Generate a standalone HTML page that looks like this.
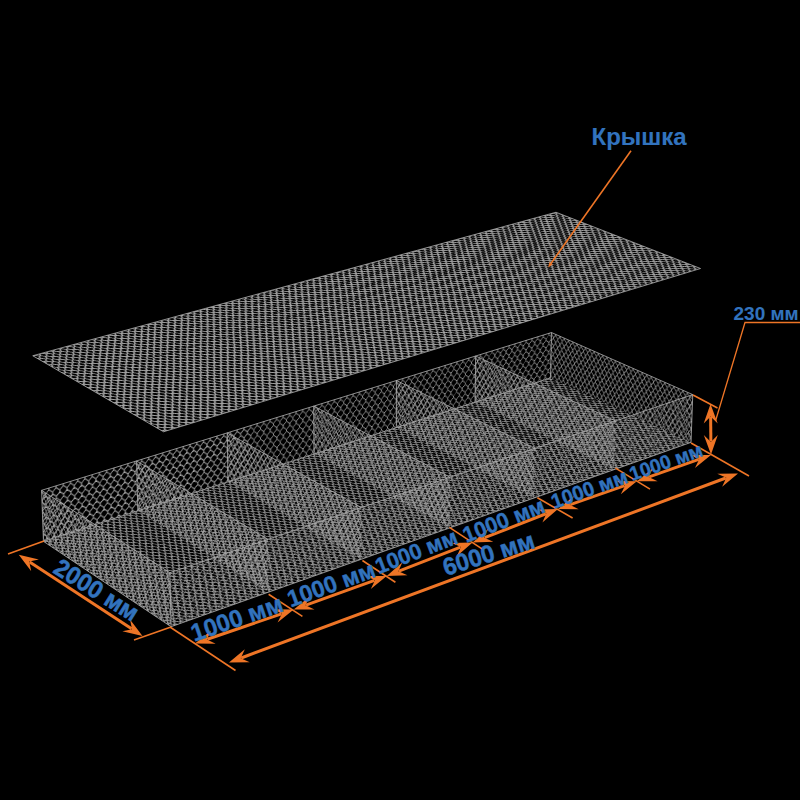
<!DOCTYPE html><html><head><meta charset="utf-8"><style>
html,body{margin:0;padding:0;background:#000;width:800px;height:800px;overflow:hidden}
svg{position:absolute;left:0;top:0}
</style></head><body>
<svg width="800" height="800" viewBox="0 0 800 800"><defs><clipPath id="c0"><path d="M32.4,355.74L107.18,335.24L74.37,380.27Z"/></clipPath><pattern id="ml0" width="6.8" height="7.9" patternUnits="userSpaceOnUse" patternTransform="matrix(1.098,-0.301,0.693,0.403,32.75,355.75) rotate(-6)"><path d="M0,0H0.85L3.4,3.95H4.25L6.8,0M0,7.9H0.85L3.4,3.95M4.25,3.95L6.8,7.9" fill="none" stroke="#a8a8a8" stroke-width="1.4" stroke-linejoin="round"/></pattern><clipPath id="c1"><path d="M106.83,335.07L149.67,358.66L74.03,380.1Z"/></clipPath><pattern id="ml1" width="6.8" height="7.9" patternUnits="userSpaceOnUse" patternTransform="matrix(1.111,-0.315,0.707,0.387,31.889,356.679) rotate(-6)"><path d="M0,0H0.85L3.4,3.95H4.25L6.8,0M0,7.9H0.85L3.4,3.95M4.25,3.95L6.8,7.9" fill="none" stroke="#a8a8a8" stroke-width="1.4" stroke-linejoin="round"/></pattern><clipPath id="c2"><path d="M73.98,379.91L149.62,358.47L117.92,405.57Z"/></clipPath><pattern id="ml2" width="6.8" height="7.9" patternUnits="userSpaceOnUse" patternTransform="matrix(1.111,-0.315,0.726,0.422,30.793,354.612) rotate(-6)"><path d="M0,0H0.85L3.4,3.95H4.25L6.8,0M0,7.9H0.85L3.4,3.95M4.25,3.95L6.8,7.9" fill="none" stroke="#a8a8a8" stroke-width="1.4" stroke-linejoin="round"/></pattern><clipPath id="c3"><path d="M149.26,358.31L194.07,382.98L117.57,405.41Z"/></clipPath><pattern id="ml3" width="6.8" height="7.9" patternUnits="userSpaceOnUse" patternTransform="matrix(1.124,-0.33,0.74,0.405,29.07,356.602) rotate(-6)"><path d="M0,0H0.85L3.4,3.95H4.25L6.8,0M0,7.9H0.85L3.4,3.95M4.25,3.95L6.8,7.9" fill="none" stroke="#a8a8a8" stroke-width="1.4" stroke-linejoin="round"/></pattern><clipPath id="c4"><path d="M117.52,405.21L194.01,382.77L163.57,432.09Z"/></clipPath><pattern id="ml4" width="6.8" height="7.9" patternUnits="userSpaceOnUse" patternTransform="matrix(1.124,-0.33,0.761,0.442,26.596,352.173) rotate(-6)"><path d="M0,0H0.85L3.4,3.95H4.25L6.8,0M0,7.9H0.85L3.4,3.95M4.25,3.95L6.8,7.9" fill="none" stroke="#a8a8a8" stroke-width="1.4" stroke-linejoin="round"/></pattern><clipPath id="c5"><path d="M193.64,382.63L240.56,408.43L163.21,431.95Z"/></clipPath><pattern id="ml5" width="6.8" height="7.9" patternUnits="userSpaceOnUse" patternTransform="matrix(1.137,-0.346,0.775,0.424,24.017,355.373) rotate(-6)"><path d="M0,0H0.85L3.4,3.95H4.25L6.8,0M0,7.9H0.85L3.4,3.95M4.25,3.95L6.8,7.9" fill="none" stroke="#a8a8a8" stroke-width="1.4" stroke-linejoin="round"/></pattern><clipPath id="c6"><path d="M106.53,335.41L178.54,315.66L149.39,359Z"/></clipPath><pattern id="ml6" width="6.8" height="7.9" patternUnits="userSpaceOnUse" patternTransform="matrix(1.057,-0.29,0.707,0.387,35.523,354.99) rotate(-6)"><path d="M0,0H0.85L3.4,3.95H4.25L6.8,0M0,7.9H0.85L3.4,3.95M4.25,3.95L6.8,7.9" fill="none" stroke="#a8a8a8" stroke-width="1.4" stroke-linejoin="round"/></pattern><clipPath id="c7"><path d="M178.17,315.51L221.8,338.22L149.03,358.84Z"/></clipPath><pattern id="ml7" width="6.8" height="7.9" patternUnits="userSpaceOnUse" patternTransform="matrix(1.069,-0.303,0.72,0.373,33.989,356.744) rotate(-6)"><path d="M0,0H0.85L3.4,3.95H4.25L6.8,0M0,7.9H0.85L3.4,3.95M4.25,3.95L6.8,7.9" fill="none" stroke="#a8a8a8" stroke-width="1.4" stroke-linejoin="round"/></pattern><clipPath id="c8"><path d="M148.97,358.65L221.74,338.02L193.8,383.31Z"/></clipPath><pattern id="ml8" width="6.8" height="7.9" patternUnits="userSpaceOnUse" patternTransform="matrix(1.069,-0.303,0.74,0.405,32.798,354.795) rotate(-6)"><path d="M0,0H0.85L3.4,3.95H4.25L6.8,0M0,7.9H0.85L3.4,3.95M4.25,3.95L6.8,7.9" fill="none" stroke="#a8a8a8" stroke-width="1.4" stroke-linejoin="round"/></pattern><clipPath id="c9"><path d="M221.36,337.87L266.96,361.59L193.43,383.16Z"/></clipPath><pattern id="ml9" width="6.8" height="7.9" patternUnits="userSpaceOnUse" patternTransform="matrix(1.08,-0.317,0.753,0.39,30.509,357.607) rotate(-6)"><path d="M0,0H0.85L3.4,3.95H4.25L6.8,0M0,7.9H0.85L3.4,3.95M4.25,3.95L6.8,7.9" fill="none" stroke="#a8a8a8" stroke-width="1.4" stroke-linejoin="round"/></pattern><clipPath id="c10"><path d="M193.37,382.96L266.9,361.39L240.31,408.77Z"/></clipPath><pattern id="ml10" width="6.8" height="7.9" patternUnits="userSpaceOnUse" patternTransform="matrix(1.08,-0.317,0.775,0.424,27.842,353.436) rotate(-6)"><path d="M0,0H0.85L3.4,3.95H4.25L6.8,0M0,7.9H0.85L3.4,3.95M4.25,3.95L6.8,7.9" fill="none" stroke="#a8a8a8" stroke-width="1.4" stroke-linejoin="round"/></pattern><clipPath id="c11"><path d="M266.51,361.25L314.21,386.05L239.93,408.63Z"/></clipPath><pattern id="ml11" width="6.8" height="7.9" patternUnits="userSpaceOnUse" patternTransform="matrix(1.091,-0.332,0.788,0.408,24.816,357.452) rotate(-6)"><path d="M0,0H0.85L3.4,3.95H4.25L6.8,0M0,7.9H0.85L3.4,3.95M4.25,3.95L6.8,7.9" fill="none" stroke="#a8a8a8" stroke-width="1.4" stroke-linejoin="round"/></pattern><clipPath id="c12"><path d="M177.89,315.84L247.27,296.81L221.54,338.55Z"/></clipPath><pattern id="ml12" width="6.8" height="7.9" patternUnits="userSpaceOnUse" patternTransform="matrix(1.018,-0.279,0.72,0.373,40.763,353.553) rotate(-6)"><path d="M0,0H0.85L3.4,3.95H4.25L6.8,0M0,7.9H0.85L3.4,3.95M4.25,3.95L6.8,7.9" fill="none" stroke="#a8a8a8" stroke-width="1.4" stroke-linejoin="round"/></pattern><clipPath id="c13"><path d="M246.88,296.66L291.22,318.54L221.15,338.4Z"/></clipPath><pattern id="ml13" width="6.8" height="7.9" patternUnits="userSpaceOnUse" patternTransform="matrix(1.028,-0.292,0.731,0.359,38.719,356.038) rotate(-6)"><path d="M0,0H0.85L3.4,3.95H4.25L6.8,0M0,7.9H0.85L3.4,3.95M4.25,3.95L6.8,7.9" fill="none" stroke="#a8a8a8" stroke-width="1.4" stroke-linejoin="round"/></pattern><clipPath id="c14"><path d="M221.1,338.2L291.16,318.34L266.71,361.92Z"/></clipPath><pattern id="ml14" width="6.8" height="7.9" patternUnits="userSpaceOnUse" patternTransform="matrix(1.028,-0.292,0.753,0.39,37.446,354.198) rotate(-6)"><path d="M0,0H0.85L3.4,3.95H4.25L6.8,0M0,7.9H0.85L3.4,3.95M4.25,3.95L6.8,7.9" fill="none" stroke="#a8a8a8" stroke-width="1.4" stroke-linejoin="round"/></pattern><clipPath id="c15"><path d="M290.76,318.2L337.05,341.03L266.32,361.78Z"/></clipPath><pattern id="ml15" width="6.8" height="7.9" patternUnits="userSpaceOnUse" patternTransform="matrix(1.038,-0.305,0.764,0.375,34.751,357.737) rotate(-6)"><path d="M0,0H0.85L3.4,3.95H4.25L6.8,0M0,7.9H0.85L3.4,3.95M4.25,3.95L6.8,7.9" fill="none" stroke="#a8a8a8" stroke-width="1.4" stroke-linejoin="round"/></pattern><clipPath id="c16"><path d="M266.26,361.57L336.99,340.82L313.98,386.37Z"/></clipPath><pattern id="ml16" width="6.8" height="7.9" patternUnits="userSpaceOnUse" patternTransform="matrix(1.038,-0.305,0.788,0.408,31.919,353.804) rotate(-6)"><path d="M0,0H0.85L3.4,3.95H4.25L6.8,0M0,7.9H0.85L3.4,3.95M4.25,3.95L6.8,7.9" fill="none" stroke="#a8a8a8" stroke-width="1.4" stroke-linejoin="round"/></pattern><clipPath id="c17"><path d="M336.58,340.69L384.97,364.54L313.57,386.24Z"/></clipPath><pattern id="ml17" width="6.8" height="7.9" patternUnits="userSpaceOnUse" patternTransform="matrix(1.048,-0.319,0.799,0.392,28.601,358.534) rotate(-6)"><path d="M0,0H0.85L3.4,3.95H4.25L6.8,0M0,7.9H0.85L3.4,3.95M4.25,3.95L6.8,7.9" fill="none" stroke="#a8a8a8" stroke-width="1.4" stroke-linejoin="round"/></pattern><clipPath id="c18"><path d="M246.63,296.99L313.53,278.63L290.98,318.86Z"/></clipPath><pattern id="ml18" width="6.8" height="7.9" patternUnits="userSpaceOnUse" patternTransform="matrix(0.982,-0.269,0.731,0.359,48.198,351.514) rotate(-6)"><path d="M0,0H0.85L3.4,3.95H4.25L6.8,0M0,7.9H0.85L3.4,3.95M4.25,3.95L6.8,7.9" fill="none" stroke="#a8a8a8" stroke-width="1.4" stroke-linejoin="round"/></pattern><clipPath id="c19"><path d="M313.12,278.5L358.08,299.58L290.58,318.72Z"/></clipPath><pattern id="ml19" width="6.8" height="7.9" patternUnits="userSpaceOnUse" patternTransform="matrix(0.991,-0.281,0.742,0.346,45.784,354.648) rotate(-6)"><path d="M0,0H0.85L3.4,3.95H4.25L6.8,0M0,7.9H0.85L3.4,3.95M4.25,3.95L6.8,7.9" fill="none" stroke="#a8a8a8" stroke-width="1.4" stroke-linejoin="round"/></pattern><clipPath id="c20"><path d="M290.52,318.52L358.02,299.38L336.83,341.35Z"/></clipPath><pattern id="ml20" width="6.8" height="7.9" patternUnits="userSpaceOnUse" patternTransform="matrix(0.991,-0.281,0.764,0.375,44.441,352.909) rotate(-6)"><path d="M0,0H0.85L3.4,3.95H4.25L6.8,0M0,7.9H0.85L3.4,3.95M4.25,3.95L6.8,7.9" fill="none" stroke="#a8a8a8" stroke-width="1.4" stroke-linejoin="round"/></pattern><clipPath id="c21"><path d="M357.6,299.25L404.51,321.24L336.41,341.22Z"/></clipPath><pattern id="ml21" width="6.8" height="7.9" patternUnits="userSpaceOnUse" patternTransform="matrix(0.999,-0.293,0.774,0.361,41.476,357.087) rotate(-6)"><path d="M0,0H0.85L3.4,3.95H4.25L6.8,0M0,7.9H0.85L3.4,3.95M4.25,3.95L6.8,7.9" fill="none" stroke="#a8a8a8" stroke-width="1.4" stroke-linejoin="round"/></pattern><clipPath id="c22"><path d="M336.35,341.01L404.44,321.02L384.75,364.85Z"/></clipPath><pattern id="ml22" width="6.8" height="7.9" patternUnits="userSpaceOnUse" patternTransform="matrix(0.999,-0.293,0.799,0.392,38.503,353.375) rotate(-6)"><path d="M0,0H0.85L3.4,3.95H4.25L6.8,0M0,7.9H0.85L3.4,3.95M4.25,3.95L6.8,7.9" fill="none" stroke="#a8a8a8" stroke-width="1.4" stroke-linejoin="round"/></pattern><clipPath id="c23"><path d="M404.02,320.91L453,343.85L384.33,364.74Z"/></clipPath><pattern id="ml23" width="6.8" height="7.9" patternUnits="userSpaceOnUse" patternTransform="matrix(1.008,-0.306,0.808,0.377,35.027,358.729) rotate(-6)"><path d="M0,0H0.85L3.4,3.95H4.25L6.8,0M0,7.9H0.85L3.4,3.95M4.25,3.95L6.8,7.9" fill="none" stroke="#a8a8a8" stroke-width="1.4" stroke-linejoin="round"/></pattern><clipPath id="c24"><path d="M312.89,278.82L377.44,261.1L357.87,299.9Z"/></clipPath><pattern id="ml24" width="6.8" height="7.9" patternUnits="userSpaceOnUse" patternTransform="matrix(0.947,-0.26,0.742,0.346,57.584,348.939) rotate(-6)"><path d="M0,0H0.85L3.4,3.95H4.25L6.8,0M0,7.9H0.85L3.4,3.95M4.25,3.95L6.8,7.9" fill="none" stroke="#a8a8a8" stroke-width="1.4" stroke-linejoin="round"/></pattern><clipPath id="c25"><path d="M377.01,260.98L422.53,281.31L357.44,299.77Z"/></clipPath><pattern id="ml25" width="6.8" height="7.9" patternUnits="userSpaceOnUse" patternTransform="matrix(0.955,-0.271,0.75,0.333,54.922,352.648) rotate(-6)"><path d="M0,0H0.85L3.4,3.95H4.25L6.8,0M0,7.9H0.85L3.4,3.95M4.25,3.95L6.8,7.9" fill="none" stroke="#a8a8a8" stroke-width="1.4" stroke-linejoin="round"/></pattern><clipPath id="c26"><path d="M357.38,299.57L422.46,281.1L404.31,321.55Z"/></clipPath><pattern id="ml26" width="6.8" height="7.9" patternUnits="userSpaceOnUse" patternTransform="matrix(0.955,-0.271,0.774,0.361,53.518,351.003) rotate(-6)"><path d="M0,0H0.85L3.4,3.95H4.25L6.8,0M0,7.9H0.85L3.4,3.95M4.25,3.95L6.8,7.9" fill="none" stroke="#a8a8a8" stroke-width="1.4" stroke-linejoin="round"/></pattern><clipPath id="c27"><path d="M422.03,280.99L469.48,302.18L403.87,321.43Z"/></clipPath><pattern id="ml27" width="6.8" height="7.9" patternUnits="userSpaceOnUse" patternTransform="matrix(0.962,-0.282,0.782,0.348,50.402,355.743) rotate(-6)"><path d="M0,0H0.85L3.4,3.95H4.25L6.8,0M0,7.9H0.85L3.4,3.95M4.25,3.95L6.8,7.9" fill="none" stroke="#a8a8a8" stroke-width="1.4" stroke-linejoin="round"/></pattern><clipPath id="c28"><path d="M403.81,321.22L469.41,301.96L452.81,344.16Z"/></clipPath><pattern id="ml28" width="6.8" height="7.9" patternUnits="userSpaceOnUse" patternTransform="matrix(0.962,-0.282,0.808,0.377,47.309,352.236) rotate(-6)"><path d="M0,0H0.85L3.4,3.95H4.25L6.8,0M0,7.9H0.85L3.4,3.95M4.25,3.95L6.8,7.9" fill="none" stroke="#a8a8a8" stroke-width="1.4" stroke-linejoin="round"/></pattern><clipPath id="c29"><path d="M468.97,301.86L518.47,323.95L452.37,344.06Z"/></clipPath><pattern id="ml29" width="6.8" height="7.9" patternUnits="userSpaceOnUse" patternTransform="matrix(0.97,-0.295,0.817,0.363,43.787,358.136) rotate(-6)"><path d="M0,0H0.85L3.4,3.95H4.25L6.8,0M0,7.9H0.85L3.4,3.95M4.25,3.95L6.8,7.9" fill="none" stroke="#a8a8a8" stroke-width="1.4" stroke-linejoin="round"/></pattern><clipPath id="c30"><path d="M376.8,261.29L439.13,244.18L422.33,281.62Z"/></clipPath><pattern id="ml30" width="6.8" height="7.9" patternUnits="userSpaceOnUse" patternTransform="matrix(0.914,-0.251,0.75,0.333,68.705,345.889) rotate(-6)"><path d="M0,0H0.85L3.4,3.95H4.25L6.8,0M0,7.9H0.85L3.4,3.95M4.25,3.95L6.8,7.9" fill="none" stroke="#a8a8a8" stroke-width="1.4" stroke-linejoin="round"/></pattern><clipPath id="c31"><path d="M438.68,244.07L484.69,263.69L421.89,281.51Z"/></clipPath><pattern id="ml31" width="6.8" height="7.9" patternUnits="userSpaceOnUse" patternTransform="matrix(0.921,-0.261,0.758,0.322,65.898,350.107) rotate(-6)"><path d="M0,0H0.85L3.4,3.95H4.25L6.8,0M0,7.9H0.85L3.4,3.95M4.25,3.95L6.8,7.9" fill="none" stroke="#a8a8a8" stroke-width="1.4" stroke-linejoin="round"/></pattern><clipPath id="c32"><path d="M421.83,281.3L484.62,263.48L469.29,302.48Z"/></clipPath><pattern id="ml32" width="6.8" height="7.9" patternUnits="userSpaceOnUse" patternTransform="matrix(0.921,-0.261,0.782,0.348,64.442,348.549) rotate(-6)"><path d="M0,0H0.85L3.4,3.95H4.25L6.8,0M0,7.9H0.85L3.4,3.95M4.25,3.95L6.8,7.9" fill="none" stroke="#a8a8a8" stroke-width="1.4" stroke-linejoin="round"/></pattern><clipPath id="c33"><path d="M484.17,263.38L532.09,283.81L468.84,302.38Z"/></clipPath><pattern id="ml33" width="6.8" height="7.9" patternUnits="userSpaceOnUse" patternTransform="matrix(0.928,-0.272,0.79,0.335,61.274,353.784) rotate(-6)"><path d="M0,0H0.85L3.4,3.95H4.25L6.8,0M0,7.9H0.85L3.4,3.95M4.25,3.95L6.8,7.9" fill="none" stroke="#a8a8a8" stroke-width="1.4" stroke-linejoin="round"/></pattern><clipPath id="c34"><path d="M468.78,302.16L532.01,283.59L518.3,324.25Z"/></clipPath><pattern id="ml34" width="6.8" height="7.9" patternUnits="userSpaceOnUse" patternTransform="matrix(0.928,-0.272,0.817,0.363,58.081,350.466) rotate(-6)"><path d="M0,0H0.85L3.4,3.95H4.25L6.8,0M0,7.9H0.85L3.4,3.95M4.25,3.95L6.8,7.9" fill="none" stroke="#a8a8a8" stroke-width="1.4" stroke-linejoin="round"/></pattern><clipPath id="c35"><path d="M531.56,283.5L581.52,304.78L517.85,324.16Z"/></clipPath><pattern id="ml35" width="6.8" height="7.9" patternUnits="userSpaceOnUse" patternTransform="matrix(0.934,-0.284,0.824,0.35,54.609,356.84) rotate(-6)"><path d="M0,0H0.85L3.4,3.95H4.25L6.8,0M0,7.9H0.85L3.4,3.95M4.25,3.95L6.8,7.9" fill="none" stroke="#a8a8a8" stroke-width="1.4" stroke-linejoin="round"/></pattern><clipPath id="c36"><path d="M438.49,244.37L498.71,227.84L484.51,263.99Z"/></clipPath><pattern id="ml36" width="6.8" height="7.9" patternUnits="userSpaceOnUse" patternTransform="matrix(0.883,-0.242,0.758,0.322,81.365,342.417) rotate(-6)"><path d="M0,0H0.85L3.4,3.95H4.25L6.8,0M0,7.9H0.85L3.4,3.95M4.25,3.95L6.8,7.9" fill="none" stroke="#a8a8a8" stroke-width="1.4" stroke-linejoin="round"/></pattern><clipPath id="c37"><path d="M498.25,227.74L544.67,246.68L484.05,263.89Z"/></clipPath><pattern id="ml37" width="6.8" height="7.9" patternUnits="userSpaceOnUse" patternTransform="matrix(0.889,-0.252,0.765,0.311,78.503,347.084) rotate(-6)"><path d="M0,0H0.85L3.4,3.95H4.25L6.8,0M0,7.9H0.85L3.4,3.95M4.25,3.95L6.8,7.9" fill="none" stroke="#a8a8a8" stroke-width="1.4" stroke-linejoin="round"/></pattern><clipPath id="c38"><path d="M483.99,263.68L544.6,246.47L531.92,284.1Z"/></clipPath><pattern id="ml38" width="6.8" height="7.9" patternUnits="userSpaceOnUse" patternTransform="matrix(0.889,-0.252,0.79,0.335,77.003,345.607) rotate(-6)"><path d="M0,0H0.85L3.4,3.95H4.25L6.8,0M0,7.9H0.85L3.4,3.95M4.25,3.95L6.8,7.9" fill="none" stroke="#a8a8a8" stroke-width="1.4" stroke-linejoin="round"/></pattern><clipPath id="c39"><path d="M544.14,246.38L592.47,266.09L531.46,284.01Z"/></clipPath><pattern id="ml39" width="6.8" height="7.9" patternUnits="userSpaceOnUse" patternTransform="matrix(0.895,-0.262,0.797,0.323,73.869,351.276) rotate(-6)"><path d="M0,0H0.85L3.4,3.95H4.25L6.8,0M0,7.9H0.85L3.4,3.95M4.25,3.95L6.8,7.9" fill="none" stroke="#a8a8a8" stroke-width="1.4" stroke-linejoin="round"/></pattern><clipPath id="c40"><path d="M531.39,283.79L592.39,265.87L581.36,305.07Z"/></clipPath><pattern id="ml40" width="6.8" height="7.9" patternUnits="userSpaceOnUse" patternTransform="matrix(0.895,-0.262,0.824,0.35,70.591,348.135) rotate(-6)"><path d="M0,0H0.85L3.4,3.95H4.25L6.8,0M0,7.9H0.85L3.4,3.95M4.25,3.95L6.8,7.9" fill="none" stroke="#a8a8a8" stroke-width="1.4" stroke-linejoin="round"/></pattern><clipPath id="c41"><path d="M591.92,265.79L642.27,286.31L580.89,305Z"/></clipPath><pattern id="ml41" width="6.8" height="7.9" patternUnits="userSpaceOnUse" patternTransform="matrix(0.9,-0.274,0.83,0.337,67.249,354.921) rotate(-6)"><path d="M0,0H0.85L3.4,3.95H4.25L6.8,0M0,7.9H0.85L3.4,3.95M4.25,3.95L6.8,7.9" fill="none" stroke="#a8a8a8" stroke-width="1.4" stroke-linejoin="round"/></pattern><clipPath id="c42"><path d="M498.07,228.03L556.28,212.04L544.51,246.97Z"/></clipPath><pattern id="ml42" width="6.8" height="7.9" patternUnits="userSpaceOnUse" patternTransform="matrix(0.853,-0.234,0.765,0.311,95.39,338.571) rotate(-6)"><path d="M0,0H0.85L3.4,3.95H4.25L6.8,0M0,7.9H0.85L3.4,3.95M4.25,3.95L6.8,7.9" fill="none" stroke="#a8a8a8" stroke-width="1.4" stroke-linejoin="round"/></pattern><clipPath id="c43"><path d="M555.81,211.96L602.61,230.26L544.04,246.89Z"/></clipPath><pattern id="ml43" width="6.8" height="7.9" patternUnits="userSpaceOnUse" patternTransform="matrix(0.858,-0.243,0.771,0.3,92.549,343.634) rotate(-6)"><path d="M0,0H0.85L3.4,3.95H4.25L6.8,0M0,7.9H0.85L3.4,3.95M4.25,3.95L6.8,7.9" fill="none" stroke="#a8a8a8" stroke-width="1.4" stroke-linejoin="round"/></pattern><clipPath id="c44"><path d="M543.97,246.67L602.53,230.04L592.31,266.38Z"/></clipPath><pattern id="ml44" width="6.8" height="7.9" patternUnits="userSpaceOnUse" patternTransform="matrix(0.858,-0.243,0.797,0.323,91.013,342.233) rotate(-6)"><path d="M0,0H0.85L3.4,3.95H4.25L6.8,0M0,7.9H0.85L3.4,3.95M4.25,3.95L6.8,7.9" fill="none" stroke="#a8a8a8" stroke-width="1.4" stroke-linejoin="round"/></pattern><clipPath id="c45"><path d="M602.06,229.97L650.73,249L591.84,266.3Z"/></clipPath><pattern id="ml45" width="6.8" height="7.9" patternUnits="userSpaceOnUse" patternTransform="matrix(0.863,-0.253,0.802,0.312,87.986,348.281) rotate(-6)"><path d="M0,0H0.85L3.4,3.95H4.25L6.8,0M0,7.9H0.85L3.4,3.95M4.25,3.95L6.8,7.9" fill="none" stroke="#a8a8a8" stroke-width="1.4" stroke-linejoin="round"/></pattern><clipPath id="c46"><path d="M591.77,266.08L650.65,248.77L642.12,286.59Z"/></clipPath><pattern id="ml46" width="6.8" height="7.9" patternUnits="userSpaceOnUse" patternTransform="matrix(0.863,-0.253,0.83,0.337,84.638,345.304) rotate(-6)"><path d="M0,0H0.85L3.4,3.95H4.25L6.8,0M0,7.9H0.85L3.4,3.95M4.25,3.95L6.8,7.9" fill="none" stroke="#a8a8a8" stroke-width="1.4" stroke-linejoin="round"/></pattern><clipPath id="c47"><path d="M650.18,248.71L700.85,268.51L641.65,286.53Z"/></clipPath><pattern id="ml47" width="6.8" height="7.9" patternUnits="userSpaceOnUse" patternTransform="matrix(0.868,-0.264,0.835,0.325,81.494,352.447) rotate(-6)"><path d="M0,0H0.85L3.4,3.95H4.25L6.8,0M0,7.9H0.85L3.4,3.95M4.25,3.95L6.8,7.9" fill="none" stroke="#a8a8a8" stroke-width="1.4" stroke-linejoin="round"/></pattern><clipPath id="c48"><path d="M43.09,541.35L114.94,518.21L84.19,568.93Z"/></clipPath><pattern id="mf48" width="5.9" height="7.9" patternUnits="userSpaceOnUse" patternTransform="matrix(1.055,-0.34,0.678,0.454,43.437,541.358) rotate(-6)"><path d="M0,0H0.75L2.95,3.95H3.7L5.9,0M0,7.9H0.75L2.95,3.95M3.7,3.95L5.9,7.9" fill="none" stroke="#a8a8a8" stroke-width="1.0" stroke-linejoin="round"/></pattern><clipPath id="c49"><path d="M114.6,518.07L156.49,544.66L83.86,568.78Z"/></clipPath><pattern id="mf49" width="5.9" height="7.9" patternUnits="userSpaceOnUse" patternTransform="matrix(1.067,-0.354,0.691,0.437,42.659,542.336) rotate(-6)"><path d="M0,0H0.75L2.95,3.95H3.7L5.9,0M0,7.9H0.75L2.95,3.95M3.7,3.95L5.9,7.9" fill="none" stroke="#a8a8a8" stroke-width="1.0" stroke-linejoin="round"/></pattern><clipPath id="c50"><path d="M83.8,568.57L156.42,544.45L126.71,597.35Z"/></clipPath><pattern id="mf50" width="5.9" height="7.9" patternUnits="userSpaceOnUse" patternTransform="matrix(1.067,-0.354,0.708,0.474,41.639,540.156) rotate(-6)"><path d="M0,0H0.75L2.95,3.95H3.7L5.9,0M0,7.9H0.75L2.95,3.95M3.7,3.95L5.9,7.9" fill="none" stroke="#a8a8a8" stroke-width="1.0" stroke-linejoin="round"/></pattern><clipPath id="c51"><path d="M156.08,544.31L199.78,572.04L126.38,597.21Z"/></clipPath><pattern id="mf51" width="5.9" height="7.9" patternUnits="userSpaceOnUse" patternTransform="matrix(1.078,-0.37,0.721,0.456,40.082,542.24) rotate(-6)"><path d="M0,0H0.75L2.95,3.95H3.7L5.9,0M0,7.9H0.75L2.95,3.95M3.7,3.95L5.9,7.9" fill="none" stroke="#a8a8a8" stroke-width="1.0" stroke-linejoin="round"/></pattern><clipPath id="c52"><path d="M126.31,596.99L199.7,571.82L171.15,627.05Z"/></clipPath><pattern id="mf52" width="5.9" height="7.9" patternUnits="userSpaceOnUse" patternTransform="matrix(1.078,-0.37,0.74,0.495,37.798,537.588) rotate(-6)"><path d="M0,0H0.75L2.95,3.95H3.7L5.9,0M0,7.9H0.75L2.95,3.95M3.7,3.95L5.9,7.9" fill="none" stroke="#a8a8a8" stroke-width="1.0" stroke-linejoin="round"/></pattern><clipPath id="c53"><path d="M199.36,571.69L244.98,600.64L170.81,626.93Z"/></clipPath><pattern id="mf53" width="5.9" height="7.9" patternUnits="userSpaceOnUse" patternTransform="matrix(1.09,-0.386,0.753,0.477,35.467,540.924) rotate(-6)"><path d="M0,0H0.75L2.95,3.95H3.7L5.9,0M0,7.9H0.75L2.95,3.95M3.7,3.95L5.9,7.9" fill="none" stroke="#a8a8a8" stroke-width="1.0" stroke-linejoin="round"/></pattern><clipPath id="c54"><path d="M114.3,518.4L183.68,496.05L156.21,545Z"/></clipPath><pattern id="mf54" width="5.9" height="7.9" patternUnits="userSpaceOnUse" patternTransform="matrix(1.018,-0.328,0.691,0.437,45.906,540.563) rotate(-6)"><path d="M0,0H0.75L2.95,3.95H3.7L5.9,0M0,7.9H0.75L2.95,3.95M3.7,3.95L5.9,7.9" fill="none" stroke="#a8a8a8" stroke-width="1.0" stroke-linejoin="round"/></pattern><clipPath id="c55"><path d="M183.33,495.92L225.94,521.58L155.86,544.86Z"/></clipPath><pattern id="mf55" width="5.9" height="7.9" patternUnits="userSpaceOnUse" patternTransform="matrix(1.029,-0.342,0.703,0.422,44.508,542.415) rotate(-6)"><path d="M0,0H0.75L2.95,3.95H3.7L5.9,0M0,7.9H0.75L2.95,3.95M3.7,3.95L5.9,7.9" fill="none" stroke="#a8a8a8" stroke-width="1.0" stroke-linejoin="round"/></pattern><clipPath id="c56"><path d="M155.79,544.64L225.87,521.36L199.5,572.38Z"/></clipPath><pattern id="mf56" width="5.9" height="7.9" patternUnits="userSpaceOnUse" patternTransform="matrix(1.029,-0.342,0.721,0.456,43.408,540.351) rotate(-6)"><path d="M0,0H0.75L2.95,3.95H3.7L5.9,0M0,7.9H0.75L2.95,3.95M3.7,3.95L5.9,7.9" fill="none" stroke="#a8a8a8" stroke-width="1.0" stroke-linejoin="round"/></pattern><clipPath id="c57"><path d="M225.51,521.24L269.92,547.98L199.15,572.25Z"/></clipPath><pattern id="mf57" width="5.9" height="7.9" patternUnits="userSpaceOnUse" patternTransform="matrix(1.039,-0.356,0.733,0.44,41.32,543.31) rotate(-6)"><path d="M0,0H0.75L2.95,3.95H3.7L5.9,0M0,7.9H0.75L2.95,3.95M3.7,3.95L5.9,7.9" fill="none" stroke="#a8a8a8" stroke-width="1.0" stroke-linejoin="round"/></pattern><clipPath id="c58"><path d="M199.08,572.02L269.84,547.75L244.72,600.97Z"/></clipPath><pattern id="mf58" width="5.9" height="7.9" patternUnits="userSpaceOnUse" patternTransform="matrix(1.039,-0.356,0.753,0.477,38.875,538.91) rotate(-6)"><path d="M0,0H0.75L2.95,3.95H3.7L5.9,0M0,7.9H0.75L2.95,3.95M3.7,3.95L5.9,7.9" fill="none" stroke="#a8a8a8" stroke-width="1.0" stroke-linejoin="round"/></pattern><clipPath id="c59"><path d="M269.48,547.64L315.82,575.53L244.36,600.85Z"/></clipPath><pattern id="mf59" width="5.9" height="7.9" patternUnits="userSpaceOnUse" patternTransform="matrix(1.049,-0.372,0.765,0.459,36.11,543.116) rotate(-6)"><path d="M0,0H0.75L2.95,3.95H3.7L5.9,0M0,7.9H0.75L2.95,3.95M3.7,3.95L5.9,7.9" fill="none" stroke="#a8a8a8" stroke-width="1.0" stroke-linejoin="round"/></pattern><clipPath id="c60"><path d="M183.05,496.25L250.09,474.65L225.67,521.92Z"/></clipPath><pattern id="mf60" width="5.9" height="7.9" patternUnits="userSpaceOnUse" patternTransform="matrix(0.984,-0.317,0.703,0.422,50.592,539.053) rotate(-6)"><path d="M0,0H0.75L2.95,3.95H3.7L5.9,0M0,7.9H0.75L2.95,3.95M3.7,3.95L5.9,7.9" fill="none" stroke="#a8a8a8" stroke-width="1.0" stroke-linejoin="round"/></pattern><clipPath id="c61"><path d="M249.72,474.53L292.97,499.31L225.31,521.79Z"/></clipPath><pattern id="mf61" width="5.9" height="7.9" patternUnits="userSpaceOnUse" patternTransform="matrix(0.993,-0.33,0.714,0.407,48.712,541.689) rotate(-6)"><path d="M0,0H0.75L2.95,3.95H3.7L5.9,0M0,7.9H0.75L2.95,3.95M3.7,3.95L5.9,7.9" fill="none" stroke="#a8a8a8" stroke-width="1.0" stroke-linejoin="round"/></pattern><clipPath id="c62"><path d="M225.24,521.56L292.89,499.09L269.67,548.31Z"/></clipPath><pattern id="mf62" width="5.9" height="7.9" patternUnits="userSpaceOnUse" patternTransform="matrix(0.993,-0.33,0.733,0.44,47.542,539.732) rotate(-6)"><path d="M0,0H0.75L2.95,3.95H3.7L5.9,0M0,7.9H0.75L2.95,3.95M3.7,3.95L5.9,7.9" fill="none" stroke="#a8a8a8" stroke-width="1.0" stroke-linejoin="round"/></pattern><clipPath id="c63"><path d="M292.52,498.97L337.57,524.77L269.3,548.19Z"/></clipPath><pattern id="mf63" width="5.9" height="7.9" patternUnits="userSpaceOnUse" patternTransform="matrix(1.002,-0.344,0.743,0.424,45.058,543.47) rotate(-6)"><path d="M0,0H0.75L2.95,3.95H3.7L5.9,0M0,7.9H0.75L2.95,3.95M3.7,3.95L5.9,7.9" fill="none" stroke="#a8a8a8" stroke-width="1.0" stroke-linejoin="round"/></pattern><clipPath id="c64"><path d="M269.22,547.96L337.49,524.54L315.57,575.85Z"/></clipPath><pattern id="mf64" width="5.9" height="7.9" patternUnits="userSpaceOnUse" patternTransform="matrix(1.002,-0.344,0.765,0.459,42.473,539.304) rotate(-6)"><path d="M0,0H0.75L2.95,3.95H3.7L5.9,0M0,7.9H0.75L2.95,3.95M3.7,3.95L5.9,7.9" fill="none" stroke="#a8a8a8" stroke-width="1.0" stroke-linejoin="round"/></pattern><clipPath id="c65"><path d="M337.12,524.43L384.08,551.32L315.2,575.74Z"/></clipPath><pattern id="mf65" width="5.9" height="7.9" patternUnits="userSpaceOnUse" patternTransform="matrix(1.011,-0.359,0.775,0.442,39.409,544.28) rotate(-6)"><path d="M0,0H0.75L2.95,3.95H3.7L5.9,0M0,7.9H0.75L2.95,3.95M3.7,3.95L5.9,7.9" fill="none" stroke="#a8a8a8" stroke-width="1.0" stroke-linejoin="round"/></pattern><clipPath id="c66"><path d="M249.46,474.85L314.26,453.97L292.72,499.64Z"/></clipPath><pattern id="mf66" width="5.9" height="7.9" patternUnits="userSpaceOnUse" patternTransform="matrix(0.951,-0.306,0.714,0.407,57.267,536.902) rotate(-6)"><path d="M0,0H0.75L2.95,3.95H3.7L5.9,0M0,7.9H0.75L2.95,3.95M3.7,3.95L5.9,7.9" fill="none" stroke="#a8a8a8" stroke-width="1.0" stroke-linejoin="round"/></pattern><clipPath id="c67"><path d="M313.88,453.85L357.71,477.8L292.34,499.52Z"/></clipPath><pattern id="mf67" width="5.9" height="7.9" patternUnits="userSpaceOnUse" patternTransform="matrix(0.959,-0.319,0.723,0.393,55.025,540.239) rotate(-6)"><path d="M0,0H0.75L2.95,3.95H3.7L5.9,0M0,7.9H0.75L2.95,3.95M3.7,3.95L5.9,7.9" fill="none" stroke="#a8a8a8" stroke-width="1.0" stroke-linejoin="round"/></pattern><clipPath id="c68"><path d="M292.27,499.29L357.63,477.57L337.34,525.1Z"/></clipPath><pattern id="mf68" width="5.9" height="7.9" patternUnits="userSpaceOnUse" patternTransform="matrix(0.959,-0.319,0.743,0.424,53.795,538.382) rotate(-6)"><path d="M0,0H0.75L2.95,3.95H3.7L5.9,0M0,7.9H0.75L2.95,3.95M3.7,3.95L5.9,7.9" fill="none" stroke="#a8a8a8" stroke-width="1.0" stroke-linejoin="round"/></pattern><clipPath id="c69"><path d="M357.24,477.46L402.87,502.37L336.95,524.98Z"/></clipPath><pattern id="mf69" width="5.9" height="7.9" patternUnits="userSpaceOnUse" patternTransform="matrix(0.967,-0.332,0.753,0.41,51.033,542.813) rotate(-6)"><path d="M0,0H0.75L2.95,3.95H3.7L5.9,0M0,7.9H0.75L2.95,3.95M3.7,3.95L5.9,7.9" fill="none" stroke="#a8a8a8" stroke-width="1.0" stroke-linejoin="round"/></pattern><clipPath id="c70"><path d="M336.87,524.75L402.78,502.14L383.85,551.64Z"/></clipPath><pattern id="mf70" width="5.9" height="7.9" patternUnits="userSpaceOnUse" patternTransform="matrix(0.967,-0.332,0.775,0.442,48.327,538.866) rotate(-6)"><path d="M0,0H0.75L2.95,3.95H3.7L5.9,0M0,7.9H0.75L2.95,3.95M3.7,3.95L5.9,7.9" fill="none" stroke="#a8a8a8" stroke-width="1.0" stroke-linejoin="round"/></pattern><clipPath id="c71"><path d="M402.39,502.04L449.92,527.98L383.47,551.54Z"/></clipPath><pattern id="mf71" width="5.9" height="7.9" patternUnits="userSpaceOnUse" patternTransform="matrix(0.975,-0.346,0.784,0.427,45.078,544.522) rotate(-6)"><path d="M0,0H0.75L2.95,3.95H3.7L5.9,0M0,7.9H0.75L2.95,3.95M3.7,3.95L5.9,7.9" fill="none" stroke="#a8a8a8" stroke-width="1.0" stroke-linejoin="round"/></pattern><clipPath id="c72"><path d="M313.64,454.17L376.33,433.97L357.48,478.12Z"/></clipPath><pattern id="mf72" width="5.9" height="7.9" patternUnits="userSpaceOnUse" patternTransform="matrix(0.919,-0.296,0.723,0.393,65.727,534.177) rotate(-6)"><path d="M0,0H0.75L2.95,3.95H3.7L5.9,0M0,7.9H0.75L2.95,3.95M3.7,3.95L5.9,7.9" fill="none" stroke="#a8a8a8" stroke-width="1.0" stroke-linejoin="round"/></pattern><clipPath id="c73"><path d="M375.93,433.86L420.28,457.01L357.09,478.01Z"/></clipPath><pattern id="mf73" width="5.9" height="7.9" patternUnits="userSpaceOnUse" patternTransform="matrix(0.927,-0.308,0.731,0.38,63.228,538.139) rotate(-6)"><path d="M0,0H0.75L2.95,3.95H3.7L5.9,0M0,7.9H0.75L2.95,3.95M3.7,3.95L5.9,7.9" fill="none" stroke="#a8a8a8" stroke-width="1.0" stroke-linejoin="round"/></pattern><clipPath id="c74"><path d="M357.01,477.78L420.19,456.78L402.65,502.69Z"/></clipPath><pattern id="mf74" width="5.9" height="7.9" patternUnits="userSpaceOnUse" patternTransform="matrix(0.927,-0.308,0.753,0.41,61.945,536.377) rotate(-6)"><path d="M0,0H0.75L2.95,3.95H3.7L5.9,0M0,7.9H0.75L2.95,3.95M3.7,3.95L5.9,7.9" fill="none" stroke="#a8a8a8" stroke-width="1.0" stroke-linejoin="round"/></pattern><clipPath id="c75"><path d="M419.79,456.67L465.92,480.74L402.25,502.59Z"/></clipPath><pattern id="mf75" width="5.9" height="7.9" patternUnits="userSpaceOnUse" patternTransform="matrix(0.934,-0.32,0.761,0.396,59.009,541.423) rotate(-6)"><path d="M0,0H0.75L2.95,3.95H3.7L5.9,0M0,7.9H0.75L2.95,3.95M3.7,3.95L5.9,7.9" fill="none" stroke="#a8a8a8" stroke-width="1.0" stroke-linejoin="round"/></pattern><clipPath id="c76"><path d="M402.17,502.35L465.83,480.5L449.7,528.29Z"/></clipPath><pattern id="mf76" width="5.9" height="7.9" patternUnits="userSpaceOnUse" patternTransform="matrix(0.934,-0.32,0.784,0.427,56.199,537.679) rotate(-6)"><path d="M0,0H0.75L2.95,3.95H3.7L5.9,0M0,7.9H0.75L2.95,3.95M3.7,3.95L5.9,7.9" fill="none" stroke="#a8a8a8" stroke-width="1.0" stroke-linejoin="round"/></pattern><clipPath id="c77"><path d="M465.43,480.41L513.45,505.45L449.3,528.2Z"/></clipPath><pattern id="mf77" width="5.9" height="7.9" patternUnits="userSpaceOnUse" patternTransform="matrix(0.941,-0.334,0.792,0.412,52.864,543.936) rotate(-6)"><path d="M0,0H0.75L2.95,3.95H3.7L5.9,0M0,7.9H0.75L2.95,3.95M3.7,3.95L5.9,7.9" fill="none" stroke="#a8a8a8" stroke-width="1.0" stroke-linejoin="round"/></pattern><clipPath id="c78"><path d="M375.7,434.17L436.38,414.62L420.06,457.32Z"/></clipPath><pattern id="mf78" width="5.9" height="7.9" patternUnits="userSpaceOnUse" patternTransform="matrix(0.89,-0.287,0.731,0.38,75.787,530.935) rotate(-6)"><path d="M0,0H0.75L2.95,3.95H3.7L5.9,0M0,7.9H0.75L2.95,3.95M3.7,3.95L5.9,7.9" fill="none" stroke="#a8a8a8" stroke-width="1.0" stroke-linejoin="round"/></pattern><clipPath id="c79"><path d="M435.96,414.52L480.77,436.9L419.65,457.22Z"/></clipPath><pattern id="mf79" width="5.9" height="7.9" patternUnits="userSpaceOnUse" patternTransform="matrix(0.896,-0.298,0.739,0.368,73.123,535.457) rotate(-6)"><path d="M0,0H0.75L2.95,3.95H3.7L5.9,0M0,7.9H0.75L2.95,3.95M3.7,3.95L5.9,7.9" fill="none" stroke="#a8a8a8" stroke-width="1.0" stroke-linejoin="round"/></pattern><clipPath id="c80"><path d="M419.58,456.99L480.69,436.67L465.72,481.05Z"/></clipPath><pattern id="mf80" width="5.9" height="7.9" patternUnits="userSpaceOnUse" patternTransform="matrix(0.896,-0.298,0.761,0.396,71.795,533.782) rotate(-6)"><path d="M0,0H0.75L2.95,3.95H3.7L5.9,0M0,7.9H0.75L2.95,3.95M3.7,3.95L5.9,7.9" fill="none" stroke="#a8a8a8" stroke-width="1.0" stroke-linejoin="round"/></pattern><clipPath id="c81"><path d="M480.27,436.58L526.85,459.84L465.3,480.96Z"/></clipPath><pattern id="mf81" width="5.9" height="7.9" patternUnits="userSpaceOnUse" patternTransform="matrix(0.903,-0.31,0.768,0.382,68.772,539.376) rotate(-6)"><path d="M0,0H0.75L2.95,3.95H3.7L5.9,0M0,7.9H0.75L2.95,3.95M3.7,3.95L5.9,7.9" fill="none" stroke="#a8a8a8" stroke-width="1.0" stroke-linejoin="round"/></pattern><clipPath id="c82"><path d="M465.22,480.72L526.76,459.6L513.25,505.76Z"/></clipPath><pattern id="mf82" width="5.9" height="7.9" patternUnits="userSpaceOnUse" patternTransform="matrix(0.903,-0.31,0.792,0.412,65.873,535.821) rotate(-6)"><path d="M0,0H0.75L2.95,3.95H3.7L5.9,0M0,7.9H0.75L2.95,3.95M3.7,3.95L5.9,7.9" fill="none" stroke="#a8a8a8" stroke-width="1.0" stroke-linejoin="round"/></pattern><clipPath id="c83"><path d="M526.34,459.52L574.79,483.7L512.84,505.68Z"/></clipPath><pattern id="mf83" width="5.9" height="7.9" patternUnits="userSpaceOnUse" patternTransform="matrix(0.909,-0.322,0.799,0.398,62.537,542.608) rotate(-6)"><path d="M0,0H0.75L2.95,3.95H3.7L5.9,0M0,7.9H0.75L2.95,3.95M3.7,3.95L5.9,7.9" fill="none" stroke="#a8a8a8" stroke-width="1.0" stroke-linejoin="round"/></pattern><clipPath id="c84"><path d="M435.75,414.82L494.51,395.88L480.57,437.21Z"/></clipPath><pattern id="mf84" width="5.9" height="7.9" patternUnits="userSpaceOnUse" patternTransform="matrix(0.861,-0.278,0.739,0.368,87.282,527.231) rotate(-6)"><path d="M0,0H0.75L2.95,3.95H3.7L5.9,0M0,7.9H0.75L2.95,3.95M3.7,3.95L5.9,7.9" fill="none" stroke="#a8a8a8" stroke-width="1.0" stroke-linejoin="round"/></pattern><clipPath id="c85"><path d="M494.09,395.79L539.3,417.45L480.15,437.12Z"/></clipPath><pattern id="mf85" width="5.9" height="7.9" patternUnits="userSpaceOnUse" patternTransform="matrix(0.867,-0.288,0.745,0.356,84.532,532.253) rotate(-6)"><path d="M0,0H0.75L2.95,3.95H3.7L5.9,0M0,7.9H0.75L2.95,3.95M3.7,3.95L5.9,7.9" fill="none" stroke="#a8a8a8" stroke-width="1.0" stroke-linejoin="round"/></pattern><clipPath id="c86"><path d="M480.07,436.88L539.22,417.22L526.66,460.14Z"/></clipPath><pattern id="mf86" width="5.9" height="7.9" patternUnits="userSpaceOnUse" patternTransform="matrix(0.867,-0.288,0.768,0.382,83.165,530.659) rotate(-6)"><path d="M0,0H0.75L2.95,3.95H3.7L5.9,0M0,7.9H0.75L2.95,3.95M3.7,3.95L5.9,7.9" fill="none" stroke="#a8a8a8" stroke-width="1.0" stroke-linejoin="round"/></pattern><clipPath id="c87"><path d="M538.79,417.14L585.76,439.63L526.24,460.06Z"/></clipPath><pattern id="mf87" width="5.9" height="7.9" patternUnits="userSpaceOnUse" patternTransform="matrix(0.873,-0.299,0.774,0.37,80.132,536.738) rotate(-6)"><path d="M0,0H0.75L2.95,3.95H3.7L5.9,0M0,7.9H0.75L2.95,3.95M3.7,3.95L5.9,7.9" fill="none" stroke="#a8a8a8" stroke-width="1.0" stroke-linejoin="round"/></pattern><clipPath id="c88"><path d="M526.15,459.82L585.67,439.38L574.61,484Z"/></clipPath><pattern id="mf88" width="5.9" height="7.9" patternUnits="userSpaceOnUse" patternTransform="matrix(0.873,-0.299,0.799,0.398,77.157,533.36) rotate(-6)"><path d="M0,0H0.75L2.95,3.95H3.7L5.9,0M0,7.9H0.75L2.95,3.95M3.7,3.95L5.9,7.9" fill="none" stroke="#a8a8a8" stroke-width="1.0" stroke-linejoin="round"/></pattern><clipPath id="c89"><path d="M585.24,439.31L634.07,462.69L574.19,483.93Z"/></clipPath><pattern id="mf89" width="5.9" height="7.9" patternUnits="userSpaceOnUse" patternTransform="matrix(0.878,-0.311,0.805,0.384,73.893,540.613) rotate(-6)"><path d="M0,0H0.75L2.95,3.95H3.7L5.9,0M0,7.9H0.75L2.95,3.95M3.7,3.95L5.9,7.9" fill="none" stroke="#a8a8a8" stroke-width="1.0" stroke-linejoin="round"/></pattern><clipPath id="c90"><path d="M493.89,396.09L550.82,377.73L539.12,417.75Z"/></clipPath><pattern id="mf90" width="5.9" height="7.9" patternUnits="userSpaceOnUse" patternTransform="matrix(0.834,-0.269,0.745,0.356,100.062,523.113) rotate(-6)"><path d="M0,0H0.75L2.95,3.95H3.7L5.9,0M0,7.9H0.75L2.95,3.95M3.7,3.95L5.9,7.9" fill="none" stroke="#a8a8a8" stroke-width="1.0" stroke-linejoin="round"/></pattern><clipPath id="c91"><path d="M550.38,377.65L595.96,398.62L538.69,417.67Z"/></clipPath><pattern id="mf91" width="5.9" height="7.9" patternUnits="userSpaceOnUse" patternTransform="matrix(0.839,-0.279,0.751,0.344,97.294,528.58) rotate(-6)"><path d="M0,0H0.75L2.95,3.95H3.7L5.9,0M0,7.9H0.75L2.95,3.95M3.7,3.95L5.9,7.9" fill="none" stroke="#a8a8a8" stroke-width="1.0" stroke-linejoin="round"/></pattern><clipPath id="c92"><path d="M538.6,417.43L595.87,398.38L585.58,439.92Z"/></clipPath><pattern id="mf92" width="5.9" height="7.9" patternUnits="userSpaceOnUse" patternTransform="matrix(0.839,-0.279,0.774,0.37,95.894,527.063) rotate(-6)"><path d="M0,0H0.75L2.95,3.95H3.7L5.9,0M0,7.9H0.75L2.95,3.95M3.7,3.95L5.9,7.9" fill="none" stroke="#a8a8a8" stroke-width="1.0" stroke-linejoin="round"/></pattern><clipPath id="c93"><path d="M595.43,398.32L642.75,420.08L585.15,439.85Z"/></clipPath><pattern id="mf93" width="5.9" height="7.9" patternUnits="userSpaceOnUse" patternTransform="matrix(0.844,-0.29,0.78,0.358,92.917,533.572) rotate(-6)"><path d="M0,0H0.75L2.95,3.95H3.7L5.9,0M0,7.9H0.75L2.95,3.95M3.7,3.95L5.9,7.9" fill="none" stroke="#a8a8a8" stroke-width="1.0" stroke-linejoin="round"/></pattern><clipPath id="c94"><path d="M585.06,439.61L642.65,419.83L633.9,462.98Z"/></clipPath><pattern id="mf94" width="5.9" height="7.9" patternUnits="userSpaceOnUse" patternTransform="matrix(0.844,-0.29,0.805,0.384,89.878,530.359) rotate(-6)"><path d="M0,0H0.75L2.95,3.95H3.7L5.9,0M0,7.9H0.75L2.95,3.95M3.7,3.95L5.9,7.9" fill="none" stroke="#a8a8a8" stroke-width="1.0" stroke-linejoin="round"/></pattern><clipPath id="c95"><path d="M642.21,419.77L691.37,442.37L633.46,462.92Z"/></clipPath><pattern id="mf95" width="5.9" height="7.9" patternUnits="userSpaceOnUse" patternTransform="matrix(0.849,-0.301,0.81,0.372,86.748,538.021) rotate(-6)"><path d="M0,0H0.75L2.95,3.95H3.7L5.9,0M0,7.9H0.75L2.95,3.95M3.7,3.95L5.9,7.9" fill="none" stroke="#a8a8a8" stroke-width="1.0" stroke-linejoin="round"/></pattern><clipPath id="c96"><path d="M41.26,490.19L113.53,467.95L43.27,541.67Z"/></clipPath><pattern id="mw96" width="6.8" height="10.2" patternUnits="userSpaceOnUse" patternTransform="matrix(1.062,-0.328,0.037,1.021,41.585,490.317)"><path d="M0,0V1.8L3.4,5.1V6.9L0,10.2M6.8,0V1.8L3.4,5.1M3.4,6.9L6.8,10.2" fill="none" stroke="#a8a8a8" stroke-width="0.9" stroke-linejoin="round"/></pattern><clipPath id="c97"><path d="M113.41,467.84L114.98,518.53L43.15,541.56Z"/></clipPath><pattern id="mw97" width="6.8" height="10.2" patternUnits="userSpaceOnUse" patternTransform="matrix(1.055,-0.34,0.028,1.005,42.021,491.093)"><path d="M0,0V1.8L3.4,5.1V6.9L0,10.2M6.8,0V1.8L3.4,5.1M3.4,6.9L6.8,10.2" fill="none" stroke="#a8a8a8" stroke-width="0.9" stroke-linejoin="round"/></pattern><clipPath id="c98"><path d="M112.91,468.01L182.68,446.55L114.49,518.72Z"/></clipPath><pattern id="mw98" width="6.8" height="10.2" patternUnits="userSpaceOnUse" patternTransform="matrix(1.025,-0.317,0.028,1.005,44.083,489.544)"><path d="M0,0V1.8L3.4,5.1V6.9L0,10.2M6.8,0V1.8L3.4,5.1M3.4,6.9L6.8,10.2" fill="none" stroke="#a8a8a8" stroke-width="0.9" stroke-linejoin="round"/></pattern><clipPath id="c99"><path d="M182.56,446.44L183.73,496.39L114.37,518.61Z"/></clipPath><pattern id="mw99" width="6.8" height="10.2" patternUnits="userSpaceOnUse" patternTransform="matrix(1.018,-0.328,0.02,0.99,44.896,491.05)"><path d="M0,0V1.8L3.4,5.1V6.9L0,10.2M6.8,0V1.8L3.4,5.1M3.4,6.9L6.8,10.2" fill="none" stroke="#a8a8a8" stroke-width="0.9" stroke-linejoin="round"/></pattern><clipPath id="c100"><path d="M182.07,446.61L249.46,425.88L183.24,496.57Z"/></clipPath><pattern id="mw100" width="6.8" height="10.2" patternUnits="userSpaceOnUse" patternTransform="matrix(0.989,-0.306,0.02,0.99,48.822,488.078)"><path d="M0,0V1.8L3.4,5.1V6.9L0,10.2M6.8,0V1.8L3.4,5.1M3.4,6.9L6.8,10.2" fill="none" stroke="#a8a8a8" stroke-width="0.9" stroke-linejoin="round"/></pattern><clipPath id="c101"><path d="M249.34,425.78L250.13,475L183.11,496.46Z"/></clipPath><pattern id="mw101" width="6.8" height="10.2" patternUnits="userSpaceOnUse" patternTransform="matrix(0.984,-0.317,0.013,0.976,49.961,490.272)"><path d="M0,0V1.8L3.4,5.1V6.9L0,10.2M6.8,0V1.8L3.4,5.1M3.4,6.9L6.8,10.2" fill="none" stroke="#a8a8a8" stroke-width="0.9" stroke-linejoin="round"/></pattern><clipPath id="c102"><path d="M248.86,425.94L314,405.91L249.64,475.17Z"/></clipPath><pattern id="mw102" width="6.8" height="10.2" patternUnits="userSpaceOnUse" patternTransform="matrix(0.956,-0.296,0.013,0.976,55.571,485.989)"><path d="M0,0V1.8L3.4,5.1V6.9L0,10.2M6.8,0V1.8L3.4,5.1M3.4,6.9L6.8,10.2" fill="none" stroke="#a8a8a8" stroke-width="0.9" stroke-linejoin="round"/></pattern><clipPath id="c103"><path d="M313.88,405.81L314.31,454.32L249.52,475.06Z"/></clipPath><pattern id="mw103" width="6.8" height="10.2" patternUnits="userSpaceOnUse" patternTransform="matrix(0.951,-0.306,0.006,0.961,56.991,488.832)"><path d="M0,0V1.8L3.4,5.1V6.9L0,10.2M6.8,0V1.8L3.4,5.1M3.4,6.9L6.8,10.2" fill="none" stroke="#a8a8a8" stroke-width="0.9" stroke-linejoin="round"/></pattern><clipPath id="c104"><path d="M313.39,405.97L376.4,386.61L313.82,454.49Z"/></clipPath><pattern id="mw104" width="6.8" height="10.2" patternUnits="userSpaceOnUse" patternTransform="matrix(0.924,-0.286,0.006,0.961,64.123,483.343)"><path d="M0,0V1.8L3.4,5.1V6.9L0,10.2M6.8,0V1.8L3.4,5.1M3.4,6.9L6.8,10.2" fill="none" stroke="#a8a8a8" stroke-width="0.9" stroke-linejoin="round"/></pattern><clipPath id="c105"><path d="M376.28,386.5L376.37,434.33L313.7,454.39Z"/></clipPath><pattern id="mw105" width="6.8" height="10.2" patternUnits="userSpaceOnUse" patternTransform="matrix(0.919,-0.296,-0.001,0.948,65.783,486.797)"><path d="M0,0V1.8L3.4,5.1V6.9L0,10.2M6.8,0V1.8L3.4,5.1M3.4,6.9L6.8,10.2" fill="none" stroke="#a8a8a8" stroke-width="0.9" stroke-linejoin="round"/></pattern><clipPath id="c106"><path d="M375.79,386.66L436.76,367.93L375.89,434.49Z"/></clipPath><pattern id="mw106" width="6.8" height="10.2" patternUnits="userSpaceOnUse" patternTransform="matrix(0.894,-0.277,-0.001,0.948,74.29,480.197)"><path d="M0,0V1.8L3.4,5.1V6.9L0,10.2M6.8,0V1.8L3.4,5.1M3.4,6.9L6.8,10.2" fill="none" stroke="#a8a8a8" stroke-width="0.9" stroke-linejoin="round"/></pattern><clipPath id="c107"><path d="M436.64,367.82L436.42,414.98L375.77,434.39Z"/></clipPath><pattern id="mw107" width="6.8" height="10.2" patternUnits="userSpaceOnUse" patternTransform="matrix(0.89,-0.287,-0.007,0.934,76.155,484.226)"><path d="M0,0V1.8L3.4,5.1V6.9L0,10.2M6.8,0V1.8L3.4,5.1M3.4,6.9L6.8,10.2" fill="none" stroke="#a8a8a8" stroke-width="0.9" stroke-linejoin="round"/></pattern><clipPath id="c108"><path d="M436.16,367.97L495.19,349.85L435.94,415.15Z"/></clipPath><pattern id="mw108" width="6.8" height="10.2" patternUnits="userSpaceOnUse" patternTransform="matrix(0.866,-0.268,-0.007,0.934,85.903,476.604)"><path d="M0,0V1.8L3.4,5.1V6.9L0,10.2M6.8,0V1.8L3.4,5.1M3.4,6.9L6.8,10.2" fill="none" stroke="#a8a8a8" stroke-width="0.9" stroke-linejoin="round"/></pattern><clipPath id="c109"><path d="M495.07,349.74L494.56,396.25L435.82,415.04Z"/></clipPath><pattern id="mw109" width="6.8" height="10.2" patternUnits="userSpaceOnUse" patternTransform="matrix(0.861,-0.278,-0.013,0.921,87.941,481.176)"><path d="M0,0V1.8L3.4,5.1V6.9L0,10.2M6.8,0V1.8L3.4,5.1M3.4,6.9L6.8,10.2" fill="none" stroke="#a8a8a8" stroke-width="0.9" stroke-linejoin="round"/></pattern><clipPath id="c110"><path d="M494.59,349.89L551.77,332.34L494.08,396.41Z"/></clipPath><pattern id="mw110" width="6.8" height="10.2" patternUnits="userSpaceOnUse" patternTransform="matrix(0.838,-0.259,-0.013,0.921,98.811,472.61)"><path d="M0,0V1.8L3.4,5.1V6.9L0,10.2M6.8,0V1.8L3.4,5.1M3.4,6.9L6.8,10.2" fill="none" stroke="#a8a8a8" stroke-width="0.9" stroke-linejoin="round"/></pattern><clipPath id="c111"><path d="M551.65,332.23L550.87,378.11L493.96,396.31Z"/></clipPath><pattern id="mw111" width="6.8" height="10.2" patternUnits="userSpaceOnUse" patternTransform="matrix(0.834,-0.269,-0.019,0.908,100.993,477.694)"><path d="M0,0V1.8L3.4,5.1V6.9L0,10.2M6.8,0V1.8L3.4,5.1M3.4,6.9L6.8,10.2" fill="none" stroke="#a8a8a8" stroke-width="0.9" stroke-linejoin="round"/></pattern><clipPath id="c112"><path d="M551.25,332.28L620.44,362.72L550.29,378.19Z"/></clipPath><pattern id="me112" width="5.6" height="9.0" patternUnits="userSpaceOnUse" patternTransform="matrix(0.762,0.335,-0.019,0.908,551.484,332.54)"><path d="M0,0V1.0L2.8,4.5V5.5L0,9.0M5.6,0V1.0L2.8,4.5M2.8,5.5L5.6,9.0" fill="none" stroke="#a8a8a8" stroke-width="0.9" stroke-linejoin="round"/></pattern><clipPath id="c113"><path d="M620.36,362.45L619.01,409.51L550.21,377.92Z"/></clipPath><pattern id="me113" width="5.6" height="9.0" patternUnits="userSpaceOnUse" patternTransform="matrix(0.758,0.348,-0.026,0.931,551.864,331.399)"><path d="M0,0V1.0L2.8,4.5V5.5L0,9.0M5.6,0V1.0L2.8,4.5M2.8,5.5L5.6,9.0" fill="none" stroke="#a8a8a8" stroke-width="0.9" stroke-linejoin="round"/></pattern><clipPath id="c114"><path d="M619.86,362.42L693.1,394.64L618.51,409.46Z"/></clipPath><pattern id="me114" width="5.6" height="9.0" patternUnits="userSpaceOnUse" patternTransform="matrix(0.807,0.355,-0.026,0.931,547.432,330.76)"><path d="M0,0V1.0L2.8,4.5V5.5L0,9.0M5.6,0V1.0L2.8,4.5M2.8,5.5L5.6,9.0" fill="none" stroke="#a8a8a8" stroke-width="0.9" stroke-linejoin="round"/></pattern><clipPath id="c115"><path d="M693.02,394.38L691.25,442.63L618.43,409.2Z"/></clipPath><pattern id="me115" width="5.6" height="9.0" patternUnits="userSpaceOnUse" patternTransform="matrix(0.803,0.368,-0.035,0.955,548.279,328.362)"><path d="M0,0V1.0L2.8,4.5V5.5L0,9.0M5.6,0V1.0L2.8,4.5M2.8,5.5L5.6,9.0" fill="none" stroke="#a8a8a8" stroke-width="0.9" stroke-linejoin="round"/></pattern><clipPath id="c116"><path d="M475.4,355.75L543.88,387.55L474.81,402.51Z"/></clipPath><pattern id="me116" width="5.6" height="9.0" patternUnits="userSpaceOnUse" patternTransform="matrix(0.754,0.35,-0.011,0.925,475.633,356.01)"><path d="M0,0V1.0L2.8,4.5V5.5L0,9.0M5.6,0V1.0L2.8,4.5M2.8,5.5L5.6,9.0" fill="none" stroke="#a8a8a8" stroke-width="0.9" stroke-linejoin="round"/></pattern><clipPath id="c117"><path d="M543.8,387.27L542.82,435.23L474.72,402.24Z"/></clipPath><pattern id="me117" width="5.6" height="9.0" patternUnits="userSpaceOnUse" patternTransform="matrix(0.75,0.363,-0.019,0.949,476.007,354.826)"><path d="M0,0V1.0L2.8,4.5V5.5L0,9.0M5.6,0V1.0L2.8,4.5M2.8,5.5L5.6,9.0" fill="none" stroke="#a8a8a8" stroke-width="0.9" stroke-linejoin="round"/></pattern><clipPath id="c118"><path d="M543.3,387.24L615.88,420.95L542.33,435.19Z"/></clipPath><pattern id="me118" width="5.6" height="9.0" patternUnits="userSpaceOnUse" patternTransform="matrix(0.8,0.371,-0.019,0.949,471.532,354.108)"><path d="M0,0V1.0L2.8,4.5V5.5L0,9.0M5.6,0V1.0L2.8,4.5M2.8,5.5L5.6,9.0" fill="none" stroke="#a8a8a8" stroke-width="0.9" stroke-linejoin="round"/></pattern><clipPath id="c119"><path d="M615.81,420.68L614.41,469.87L542.25,434.91Z"/></clipPath><pattern id="me119" width="5.6" height="9.0" patternUnits="userSpaceOnUse" patternTransform="matrix(0.795,0.385,-0.027,0.974,472.368,351.618)"><path d="M0,0V1.0L2.8,4.5V5.5L0,9.0M5.6,0V1.0L2.8,4.5M2.8,5.5L5.6,9.0" fill="none" stroke="#a8a8a8" stroke-width="0.9" stroke-linejoin="round"/></pattern><clipPath id="c120"><path d="M396.23,380.24L463.86,413.5L396.03,427.9Z"/></clipPath><pattern id="me120" width="5.6" height="9.0" patternUnits="userSpaceOnUse" patternTransform="matrix(0.745,0.366,-0.003,0.943,396.451,380.512)"><path d="M0,0V1.0L2.8,4.5V5.5L0,9.0M5.6,0V1.0L2.8,4.5M2.8,5.5L5.6,9.0" fill="none" stroke="#a8a8a8" stroke-width="0.9" stroke-linejoin="round"/></pattern><clipPath id="c121"><path d="M463.77,413.22L463.2,462.11L395.94,427.61Z"/></clipPath><pattern id="me121" width="5.6" height="9.0" patternUnits="userSpaceOnUse" patternTransform="matrix(0.741,0.38,-0.011,0.968,396.816,379.283)"><path d="M0,0V1.0L2.8,4.5V5.5L0,9.0M5.6,0V1.0L2.8,4.5M2.8,5.5L5.6,9.0" fill="none" stroke="#a8a8a8" stroke-width="0.9" stroke-linejoin="round"/></pattern><clipPath id="c122"><path d="M463.29,413.19L535.07,448.49L462.72,462.07Z"/></clipPath><pattern id="me122" width="5.6" height="9.0" patternUnits="userSpaceOnUse" patternTransform="matrix(0.791,0.389,-0.011,0.968,392.305,378.475)"><path d="M0,0V1.0L2.8,4.5V5.5L0,9.0M5.6,0V1.0L2.8,4.5M2.8,5.5L5.6,9.0" fill="none" stroke="#a8a8a8" stroke-width="0.9" stroke-linejoin="round"/></pattern><clipPath id="c123"><path d="M534.99,448.21L534,498.38L462.64,461.78Z"/></clipPath><pattern id="me123" width="5.6" height="9.0" patternUnits="userSpaceOnUse" patternTransform="matrix(0.787,0.403,-0.019,0.994,393.127,375.889)"><path d="M0,0V1.0L2.8,4.5V5.5L0,9.0M5.6,0V1.0L2.8,4.5M2.8,5.5L5.6,9.0" fill="none" stroke="#a8a8a8" stroke-width="0.9" stroke-linejoin="round"/></pattern><clipPath id="c124"><path d="M313.49,405.84L380.13,440.66L313.73,454.42Z"/></clipPath><pattern id="me124" width="5.6" height="9.0" patternUnits="userSpaceOnUse" patternTransform="matrix(0.734,0.383,0.006,0.961,313.711,406.113)"><path d="M0,0V1.0L2.8,4.5V5.5L0,9.0M5.6,0V1.0L2.8,4.5M2.8,5.5L5.6,9.0" fill="none" stroke="#a8a8a8" stroke-width="0.9" stroke-linejoin="round"/></pattern><clipPath id="c125"><path d="M380.04,440.36L379.92,490.23L313.64,454.13Z"/></clipPath><pattern id="me125" width="5.6" height="9.0" patternUnits="userSpaceOnUse" patternTransform="matrix(0.73,0.397,-0.002,0.987,314.066,404.837)"><path d="M0,0V1.0L2.8,4.5V5.5L0,9.0M5.6,0V1.0L2.8,4.5M2.8,5.5L5.6,9.0" fill="none" stroke="#a8a8a8" stroke-width="0.9" stroke-linejoin="round"/></pattern><clipPath id="c126"><path d="M379.57,440.33L450.39,477.34L379.45,490.18Z"/></clipPath><pattern id="me126" width="5.6" height="9.0" patternUnits="userSpaceOnUse" patternTransform="matrix(0.781,0.407,-0.002,0.987,309.529,403.93)"><path d="M0,0V1.0L2.8,4.5V5.5L0,9.0M5.6,0V1.0L2.8,4.5M2.8,5.5L5.6,9.0" fill="none" stroke="#a8a8a8" stroke-width="0.9" stroke-linejoin="round"/></pattern><clipPath id="c127"><path d="M450.31,477.05L449.78,528.25L379.36,489.89Z"/></clipPath><pattern id="me127" width="5.6" height="9.0" patternUnits="userSpaceOnUse" patternTransform="matrix(0.776,0.422,-0.01,1.014,310.331,401.241)"><path d="M0,0V1.0L2.8,4.5V5.5L0,9.0M5.6,0V1.0L2.8,4.5M2.8,5.5L5.6,9.0" fill="none" stroke="#a8a8a8" stroke-width="0.9" stroke-linejoin="round"/></pattern><clipPath id="c128"><path d="M226.96,432.61L292.44,469.1L227.67,482.16Z"/></clipPath><pattern id="me128" width="5.6" height="9.0" patternUnits="userSpaceOnUse" patternTransform="matrix(0.721,0.402,0.015,0.98,227.17,432.892)"><path d="M0,0V1.0L2.8,4.5V5.5L0,9.0M5.6,0V1.0L2.8,4.5M2.8,5.5L5.6,9.0" fill="none" stroke="#a8a8a8" stroke-width="0.9" stroke-linejoin="round"/></pattern><clipPath id="c129"><path d="M292.34,468.79L292.72,519.67L227.58,481.85Z"/></clipPath><pattern id="me129" width="5.6" height="9.0" patternUnits="userSpaceOnUse" patternTransform="matrix(0.718,0.416,0.008,1.007,227.512,431.564)"><path d="M0,0V1.0L2.8,4.5V5.5L0,9.0M5.6,0V1.0L2.8,4.5M2.8,5.5L5.6,9.0" fill="none" stroke="#a8a8a8" stroke-width="0.9" stroke-linejoin="round"/></pattern><clipPath id="c130"><path d="M291.88,468.77L361.58,507.6L292.25,519.63Z"/></clipPath><pattern id="me130" width="5.6" height="9.0" patternUnits="userSpaceOnUse" patternTransform="matrix(0.768,0.428,0.008,1.007,222.96,430.548)"><path d="M0,0V1.0L2.8,4.5V5.5L0,9.0M5.6,0V1.0L2.8,4.5M2.8,5.5L5.6,9.0" fill="none" stroke="#a8a8a8" stroke-width="0.9" stroke-linejoin="round"/></pattern><clipPath id="c131"><path d="M361.49,507.3L361.47,559.56L292.17,519.32Z"/></clipPath><pattern id="me131" width="5.6" height="9.0" patternUnits="userSpaceOnUse" patternTransform="matrix(0.764,0.443,0,1.035,223.738,427.749)"><path d="M0,0V1.0L2.8,4.5V5.5L0,9.0M5.6,0V1.0L2.8,4.5M2.8,5.5L5.6,9.0" fill="none" stroke="#a8a8a8" stroke-width="0.9" stroke-linejoin="round"/></pattern><clipPath id="c132"><path d="M136.35,460.65L200.49,498.93L137.59,511.19Z"/></clipPath><pattern id="me132" width="5.6" height="9.0" patternUnits="userSpaceOnUse" patternTransform="matrix(0.707,0.421,0.026,1,136.56,460.929)"><path d="M0,0V1.0L2.8,4.5V5.5L0,9.0M5.6,0V1.0L2.8,4.5M2.8,5.5L5.6,9.0" fill="none" stroke="#a8a8a8" stroke-width="0.9" stroke-linejoin="round"/></pattern><clipPath id="c133"><path d="M200.39,498.61L201.3,550.54L137.5,510.87Z"/></clipPath><pattern id="me133" width="5.6" height="9.0" patternUnits="userSpaceOnUse" patternTransform="matrix(0.703,0.437,0.019,1.028,136.885,459.548)"><path d="M0,0V1.0L2.8,4.5V5.5L0,9.0M5.6,0V1.0L2.8,4.5M2.8,5.5L5.6,9.0" fill="none" stroke="#a8a8a8" stroke-width="0.9" stroke-linejoin="round"/></pattern><clipPath id="c134"><path d="M199.94,498.58L268.3,539.38L200.84,550.49Z"/></clipPath><pattern id="me134" width="5.6" height="9.0" patternUnits="userSpaceOnUse" patternTransform="matrix(0.753,0.449,0.019,1.028,132.333,458.408)"><path d="M0,0V1.0L2.8,4.5V5.5L0,9.0M5.6,0V1.0L2.8,4.5M2.8,5.5L5.6,9.0" fill="none" stroke="#a8a8a8" stroke-width="0.9" stroke-linejoin="round"/></pattern><clipPath id="c135"><path d="M268.21,539.06L268.74,592.44L200.76,550.17Z"/></clipPath><pattern id="me135" width="5.6" height="9.0" patternUnits="userSpaceOnUse" patternTransform="matrix(0.749,0.466,0.012,1.057,133.078,455.494)"><path d="M0,0V1.0L2.8,4.5V5.5L0,9.0M5.6,0V1.0L2.8,4.5M2.8,5.5L5.6,9.0" fill="none" stroke="#a8a8a8" stroke-width="0.9" stroke-linejoin="round"/></pattern><clipPath id="c136"><path d="M169.56,572.59L244.19,547.3L170.92,627.02Z"/></clipPath><pattern id="mv136" width="6.8" height="10.2" patternUnits="userSpaceOnUse" patternTransform="matrix(1.097,-0.374,0.024,1.08,169.89,572.714)"><path d="M0,0V1.8L3.4,5.1V6.9L0,10.2M6.8,0V1.8L3.4,5.1M3.4,6.9L6.8,10.2" fill="none" stroke="#a8a8a8" stroke-width="0.6" stroke-linejoin="round"/></pattern><clipPath id="c137"><path d="M244.07,547.19L244.96,600.75L170.8,626.92Z"/></clipPath><pattern id="mv137" width="6.8" height="10.2" patternUnits="userSpaceOnUse" patternTransform="matrix(1.09,-0.386,0.015,1.063,170.356,573.579)"><path d="M0,0V1.8L3.4,5.1V6.9L0,10.2M6.8,0V1.8L3.4,5.1M3.4,6.9L6.8,10.2" fill="none" stroke="#a8a8a8" stroke-width="0.6" stroke-linejoin="round"/></pattern><clipPath id="c138"><path d="M243.58,547.37L315.46,523.02L244.47,600.94Z"/></clipPath><pattern id="mv138" width="6.8" height="10.2" patternUnits="userSpaceOnUse" patternTransform="matrix(1.056,-0.36,0.015,1.063,172.64,571.778)"><path d="M0,0V1.8L3.4,5.1V6.9L0,10.2M6.8,0V1.8L3.4,5.1M3.4,6.9L6.8,10.2" fill="none" stroke="#a8a8a8" stroke-width="0.6" stroke-linejoin="round"/></pattern><clipPath id="c139"><path d="M315.34,522.92L315.8,575.64L244.35,600.84Z"/></clipPath><pattern id="mv139" width="6.8" height="10.2" patternUnits="userSpaceOnUse" patternTransform="matrix(1.049,-0.372,0.006,1.046,173.505,573.454)"><path d="M0,0V1.8L3.4,5.1V6.9L0,10.2M6.8,0V1.8L3.4,5.1M3.4,6.9L6.8,10.2" fill="none" stroke="#a8a8a8" stroke-width="0.6" stroke-linejoin="round"/></pattern><clipPath id="c140"><path d="M314.85,523.09L384.12,499.63L315.3,575.83Z"/></clipPath><pattern id="mv140" width="6.8" height="10.2" patternUnits="userSpaceOnUse" patternTransform="matrix(1.017,-0.347,0.006,1.046,177.838,570.007)"><path d="M0,0V1.8L3.4,5.1V6.9L0,10.2M6.8,0V1.8L3.4,5.1M3.4,6.9L6.8,10.2" fill="none" stroke="#a8a8a8" stroke-width="0.6" stroke-linejoin="round"/></pattern><clipPath id="c141"><path d="M384.01,499.52L384.06,551.44L315.19,575.72Z"/></clipPath><pattern id="mv141" width="6.8" height="10.2" patternUnits="userSpaceOnUse" patternTransform="matrix(1.011,-0.359,-0.002,1.03,179.044,572.446)"><path d="M0,0V1.8L3.4,5.1V6.9L0,10.2M6.8,0V1.8L3.4,5.1M3.4,6.9L6.8,10.2" fill="none" stroke="#a8a8a8" stroke-width="0.6" stroke-linejoin="round"/></pattern><clipPath id="c142"><path d="M383.52,499.69L450.33,477.07L383.57,551.62Z"/></clipPath><pattern id="mv142" width="6.8" height="10.2" patternUnits="userSpaceOnUse" patternTransform="matrix(0.981,-0.334,-0.002,1.03,185.217,567.493)"><path d="M0,0V1.8L3.4,5.1V6.9L0,10.2M6.8,0V1.8L3.4,5.1M3.4,6.9L6.8,10.2" fill="none" stroke="#a8a8a8" stroke-width="0.6" stroke-linejoin="round"/></pattern><clipPath id="c143"><path d="M450.21,476.97L449.89,528.11L383.45,551.52Z"/></clipPath><pattern id="mv143" width="6.8" height="10.2" patternUnits="userSpaceOnUse" patternTransform="matrix(0.975,-0.346,-0.01,1.014,186.712,570.648)"><path d="M0,0V1.8L3.4,5.1V6.9L0,10.2M6.8,0V1.8L3.4,5.1M3.4,6.9L6.8,10.2" fill="none" stroke="#a8a8a8" stroke-width="0.6" stroke-linejoin="round"/></pattern><clipPath id="c144"><path d="M449.73,477.13L514.21,455.31L449.4,528.28Z"/></clipPath><pattern id="mv144" width="6.8" height="10.2" patternUnits="userSpaceOnUse" patternTransform="matrix(0.946,-0.322,-0.01,1.014,194.536,564.319)"><path d="M0,0V1.8L3.4,5.1V6.9L0,10.2M6.8,0V1.8L3.4,5.1M3.4,6.9L6.8,10.2" fill="none" stroke="#a8a8a8" stroke-width="0.6" stroke-linejoin="round"/></pattern><clipPath id="c145"><path d="M514.09,455.21L513.42,505.59L449.29,528.18Z"/></clipPath><pattern id="mv145" width="6.8" height="10.2" patternUnits="userSpaceOnUse" patternTransform="matrix(0.941,-0.334,-0.017,0.999,196.274,568.147)"><path d="M0,0V1.8L3.4,5.1V6.9L0,10.2M6.8,0V1.8L3.4,5.1M3.4,6.9L6.8,10.2" fill="none" stroke="#a8a8a8" stroke-width="0.6" stroke-linejoin="round"/></pattern><clipPath id="c146"><path d="M513.61,455.37L575.88,434.3L512.94,505.76Z"/></clipPath><pattern id="mv146" width="6.8" height="10.2" patternUnits="userSpaceOnUse" patternTransform="matrix(0.914,-0.311,-0.017,0.999,205.58,560.557)"><path d="M0,0V1.8L3.4,5.1V6.9L0,10.2M6.8,0V1.8L3.4,5.1M3.4,6.9L6.8,10.2" fill="none" stroke="#a8a8a8" stroke-width="0.6" stroke-linejoin="round"/></pattern><clipPath id="c147"><path d="M575.76,434.2L574.76,483.84L512.82,505.66Z"/></clipPath><pattern id="mv147" width="6.8" height="10.2" patternUnits="userSpaceOnUse" patternTransform="matrix(0.909,-0.322,-0.023,0.984,207.522,565.017)"><path d="M0,0V1.8L3.4,5.1V6.9L0,10.2M6.8,0V1.8L3.4,5.1M3.4,6.9L6.8,10.2" fill="none" stroke="#a8a8a8" stroke-width="0.6" stroke-linejoin="round"/></pattern><clipPath id="c148"><path d="M575.28,434.36L635.45,414.01L574.28,484Z"/></clipPath><pattern id="mv148" width="6.8" height="10.2" patternUnits="userSpaceOnUse" patternTransform="matrix(0.883,-0.301,-0.023,0.984,218.158,556.272)"><path d="M0,0V1.8L3.4,5.1V6.9L0,10.2M6.8,0V1.8L3.4,5.1M3.4,6.9L6.8,10.2" fill="none" stroke="#a8a8a8" stroke-width="0.6" stroke-linejoin="round"/></pattern><clipPath id="c149"><path d="M635.33,413.91L634.03,462.83L574.16,483.91Z"/></clipPath><pattern id="mv149" width="6.8" height="10.2" patternUnits="userSpaceOnUse" patternTransform="matrix(0.878,-0.311,-0.029,0.969,220.268,561.327)"><path d="M0,0V1.8L3.4,5.1V6.9L0,10.2M6.8,0V1.8L3.4,5.1M3.4,6.9L6.8,10.2" fill="none" stroke="#a8a8a8" stroke-width="0.6" stroke-linejoin="round"/></pattern><clipPath id="c150"><path d="M634.86,414.06L693.03,394.39L633.55,462.99Z"/></clipPath><pattern id="mv150" width="6.8" height="10.2" patternUnits="userSpaceOnUse" patternTransform="matrix(0.853,-0.291,-0.029,0.969,232.096,551.524)"><path d="M0,0V1.8L3.4,5.1V6.9L0,10.2M6.8,0V1.8L3.4,5.1M3.4,6.9L6.8,10.2" fill="none" stroke="#a8a8a8" stroke-width="0.6" stroke-linejoin="round"/></pattern><clipPath id="c151"><path d="M692.91,394.29L691.33,442.52L633.44,462.89Z"/></clipPath><pattern id="mv151" width="6.8" height="10.2" patternUnits="userSpaceOnUse" patternTransform="matrix(0.849,-0.301,-0.035,0.955,234.343,557.138)"><path d="M0,0V1.8L3.4,5.1V6.9L0,10.2M6.8,0V1.8L3.4,5.1M3.4,6.9L6.8,10.2" fill="none" stroke="#a8a8a8" stroke-width="0.6" stroke-linejoin="round"/></pattern><clipPath id="c152"><path d="M41.38,490.03L103.96,530.24L43.2,541.61Z"/></clipPath><pattern id="me152" width="5.6" height="9.0" patternUnits="userSpaceOnUse" patternTransform="matrix(0.689,0.443,0.037,1.021,41.585,490.317)"><path d="M0,0V1.0L2.8,4.5V5.5L0,9.0M5.6,0V1.0L2.8,4.5M2.8,5.5L5.6,9.0" fill="none" stroke="#a8a8a8" stroke-width="0.9" stroke-linejoin="round"/></pattern><clipPath id="c153"><path d="M103.86,529.9L105.36,582.93L43.1,541.27Z"/></clipPath><pattern id="me153" width="5.6" height="9.0" patternUnits="userSpaceOnUse" patternTransform="matrix(0.686,0.459,0.031,1.05,41.891,488.88)"><path d="M0,0V1.0L2.8,4.5V5.5L0,9.0M5.6,0V1.0L2.8,4.5M2.8,5.5L5.6,9.0" fill="none" stroke="#a8a8a8" stroke-width="0.9" stroke-linejoin="round"/></pattern><clipPath id="c154"><path d="M103.42,529.87L170.23,572.8L104.92,582.88Z"/></clipPath><pattern id="me154" width="5.6" height="9.0" patternUnits="userSpaceOnUse" patternTransform="matrix(0.736,0.473,0.031,1.05,37.356,487.601)"><path d="M0,0V1.0L2.8,4.5V5.5L0,9.0M5.6,0V1.0L2.8,4.5M2.8,5.5L5.6,9.0" fill="none" stroke="#a8a8a8" stroke-width="0.9" stroke-linejoin="round"/></pattern><clipPath id="c155"><path d="M170.14,572.47L171.28,627L104.83,582.55Z"/></clipPath><pattern id="me155" width="5.6" height="9.0" patternUnits="userSpaceOnUse" patternTransform="matrix(0.732,0.49,0.024,1.08,38.061,484.565)"><path d="M0,0V1.0L2.8,4.5V5.5L0,9.0M5.6,0V1.0L2.8,4.5M2.8,5.5L5.6,9.0" fill="none" stroke="#a8a8a8" stroke-width="0.9" stroke-linejoin="round"/></pattern></defs>
<path clip-path="url(#c0)" d="M32.4,355.74L107.18,335.24L74.37,380.27Z" fill="url(#ml0)"/><path clip-path="url(#c1)" d="M106.83,335.07L149.67,358.66L74.03,380.1Z" fill="url(#ml1)"/><path clip-path="url(#c2)" d="M73.98,379.91L149.62,358.47L117.92,405.57Z" fill="url(#ml2)"/><path clip-path="url(#c3)" d="M149.26,358.31L194.07,382.98L117.57,405.41Z" fill="url(#ml3)"/><path clip-path="url(#c4)" d="M117.52,405.21L194.01,382.77L163.57,432.09Z" fill="url(#ml4)"/><path clip-path="url(#c5)" d="M193.64,382.63L240.56,408.43L163.21,431.95Z" fill="url(#ml5)"/><path clip-path="url(#c6)" d="M106.53,335.41L178.54,315.66L149.39,359Z" fill="url(#ml6)"/><path clip-path="url(#c7)" d="M178.17,315.51L221.8,338.22L149.03,358.84Z" fill="url(#ml7)"/><path clip-path="url(#c8)" d="M148.97,358.65L221.74,338.02L193.8,383.31Z" fill="url(#ml8)"/><path clip-path="url(#c9)" d="M221.36,337.87L266.96,361.59L193.43,383.16Z" fill="url(#ml9)"/><path clip-path="url(#c10)" d="M193.37,382.96L266.9,361.39L240.31,408.77Z" fill="url(#ml10)"/><path clip-path="url(#c11)" d="M266.51,361.25L314.21,386.05L239.93,408.63Z" fill="url(#ml11)"/><path clip-path="url(#c12)" d="M177.89,315.84L247.27,296.81L221.54,338.55Z" fill="url(#ml12)"/><path clip-path="url(#c13)" d="M246.88,296.66L291.22,318.54L221.15,338.4Z" fill="url(#ml13)"/><path clip-path="url(#c14)" d="M221.1,338.2L291.16,318.34L266.71,361.92Z" fill="url(#ml14)"/><path clip-path="url(#c15)" d="M290.76,318.2L337.05,341.03L266.32,361.78Z" fill="url(#ml15)"/><path clip-path="url(#c16)" d="M266.26,361.57L336.99,340.82L313.98,386.37Z" fill="url(#ml16)"/><path clip-path="url(#c17)" d="M336.58,340.69L384.97,364.54L313.57,386.24Z" fill="url(#ml17)"/><path clip-path="url(#c18)" d="M246.63,296.99L313.53,278.63L290.98,318.86Z" fill="url(#ml18)"/><path clip-path="url(#c19)" d="M313.12,278.5L358.08,299.58L290.58,318.72Z" fill="url(#ml19)"/><path clip-path="url(#c20)" d="M290.52,318.52L358.02,299.38L336.83,341.35Z" fill="url(#ml20)"/><path clip-path="url(#c21)" d="M357.6,299.25L404.51,321.24L336.41,341.22Z" fill="url(#ml21)"/><path clip-path="url(#c22)" d="M336.35,341.01L404.44,321.02L384.75,364.85Z" fill="url(#ml22)"/><path clip-path="url(#c23)" d="M404.02,320.91L453,343.85L384.33,364.74Z" fill="url(#ml23)"/><path clip-path="url(#c24)" d="M312.89,278.82L377.44,261.1L357.87,299.9Z" fill="url(#ml24)"/><path clip-path="url(#c25)" d="M377.01,260.98L422.53,281.31L357.44,299.77Z" fill="url(#ml25)"/><path clip-path="url(#c26)" d="M357.38,299.57L422.46,281.1L404.31,321.55Z" fill="url(#ml26)"/><path clip-path="url(#c27)" d="M422.03,280.99L469.48,302.18L403.87,321.43Z" fill="url(#ml27)"/><path clip-path="url(#c28)" d="M403.81,321.22L469.41,301.96L452.81,344.16Z" fill="url(#ml28)"/><path clip-path="url(#c29)" d="M468.97,301.86L518.47,323.95L452.37,344.06Z" fill="url(#ml29)"/><path clip-path="url(#c30)" d="M376.8,261.29L439.13,244.18L422.33,281.62Z" fill="url(#ml30)"/><path clip-path="url(#c31)" d="M438.68,244.07L484.69,263.69L421.89,281.51Z" fill="url(#ml31)"/><path clip-path="url(#c32)" d="M421.83,281.3L484.62,263.48L469.29,302.48Z" fill="url(#ml32)"/><path clip-path="url(#c33)" d="M484.17,263.38L532.09,283.81L468.84,302.38Z" fill="url(#ml33)"/><path clip-path="url(#c34)" d="M468.78,302.16L532.01,283.59L518.3,324.25Z" fill="url(#ml34)"/><path clip-path="url(#c35)" d="M531.56,283.5L581.52,304.78L517.85,324.16Z" fill="url(#ml35)"/><path clip-path="url(#c36)" d="M438.49,244.37L498.71,227.84L484.51,263.99Z" fill="url(#ml36)"/><path clip-path="url(#c37)" d="M498.25,227.74L544.67,246.68L484.05,263.89Z" fill="url(#ml37)"/><path clip-path="url(#c38)" d="M483.99,263.68L544.6,246.47L531.92,284.1Z" fill="url(#ml38)"/><path clip-path="url(#c39)" d="M544.14,246.38L592.47,266.09L531.46,284.01Z" fill="url(#ml39)"/><path clip-path="url(#c40)" d="M531.39,283.79L592.39,265.87L581.36,305.07Z" fill="url(#ml40)"/><path clip-path="url(#c41)" d="M591.92,265.79L642.27,286.31L580.89,305Z" fill="url(#ml41)"/><path clip-path="url(#c42)" d="M498.07,228.03L556.28,212.04L544.51,246.97Z" fill="url(#ml42)"/><path clip-path="url(#c43)" d="M555.81,211.96L602.61,230.26L544.04,246.89Z" fill="url(#ml43)"/><path clip-path="url(#c44)" d="M543.97,246.67L602.53,230.04L592.31,266.38Z" fill="url(#ml44)"/><path clip-path="url(#c45)" d="M602.06,229.97L650.73,249L591.84,266.3Z" fill="url(#ml45)"/><path clip-path="url(#c46)" d="M591.77,266.08L650.65,248.77L642.12,286.59Z" fill="url(#ml46)"/><path clip-path="url(#c47)" d="M650.18,248.71L700.85,268.51L641.65,286.53Z" fill="url(#ml47)"/><path clip-path="url(#c48)" d="M43.09,541.35L114.94,518.21L84.19,568.93Z" fill="url(#mf48)"/><path clip-path="url(#c49)" d="M114.6,518.07L156.49,544.66L83.86,568.78Z" fill="url(#mf49)"/><path clip-path="url(#c50)" d="M83.8,568.57L156.42,544.45L126.71,597.35Z" fill="url(#mf50)"/><path clip-path="url(#c51)" d="M156.08,544.31L199.78,572.04L126.38,597.21Z" fill="url(#mf51)"/><path clip-path="url(#c52)" d="M126.31,596.99L199.7,571.82L171.15,627.05Z" fill="url(#mf52)"/><path clip-path="url(#c53)" d="M199.36,571.69L244.98,600.64L170.81,626.93Z" fill="url(#mf53)"/><path clip-path="url(#c54)" d="M114.3,518.4L183.68,496.05L156.21,545Z" fill="url(#mf54)"/><path clip-path="url(#c55)" d="M183.33,495.92L225.94,521.58L155.86,544.86Z" fill="url(#mf55)"/><path clip-path="url(#c56)" d="M155.79,544.64L225.87,521.36L199.5,572.38Z" fill="url(#mf56)"/><path clip-path="url(#c57)" d="M225.51,521.24L269.92,547.98L199.15,572.25Z" fill="url(#mf57)"/><path clip-path="url(#c58)" d="M199.08,572.02L269.84,547.75L244.72,600.97Z" fill="url(#mf58)"/><path clip-path="url(#c59)" d="M269.48,547.64L315.82,575.53L244.36,600.85Z" fill="url(#mf59)"/><path clip-path="url(#c60)" d="M183.05,496.25L250.09,474.65L225.67,521.92Z" fill="url(#mf60)"/><path clip-path="url(#c61)" d="M249.72,474.53L292.97,499.31L225.31,521.79Z" fill="url(#mf61)"/><path clip-path="url(#c62)" d="M225.24,521.56L292.89,499.09L269.67,548.31Z" fill="url(#mf62)"/><path clip-path="url(#c63)" d="M292.52,498.97L337.57,524.77L269.3,548.19Z" fill="url(#mf63)"/><path clip-path="url(#c64)" d="M269.22,547.96L337.49,524.54L315.57,575.85Z" fill="url(#mf64)"/><path clip-path="url(#c65)" d="M337.12,524.43L384.08,551.32L315.2,575.74Z" fill="url(#mf65)"/><path clip-path="url(#c66)" d="M249.46,474.85L314.26,453.97L292.72,499.64Z" fill="url(#mf66)"/><path clip-path="url(#c67)" d="M313.88,453.85L357.71,477.8L292.34,499.52Z" fill="url(#mf67)"/><path clip-path="url(#c68)" d="M292.27,499.29L357.63,477.57L337.34,525.1Z" fill="url(#mf68)"/><path clip-path="url(#c69)" d="M357.24,477.46L402.87,502.37L336.95,524.98Z" fill="url(#mf69)"/><path clip-path="url(#c70)" d="M336.87,524.75L402.78,502.14L383.85,551.64Z" fill="url(#mf70)"/><path clip-path="url(#c71)" d="M402.39,502.04L449.92,527.98L383.47,551.54Z" fill="url(#mf71)"/><path clip-path="url(#c72)" d="M313.64,454.17L376.33,433.97L357.48,478.12Z" fill="url(#mf72)"/><path clip-path="url(#c73)" d="M375.93,433.86L420.28,457.01L357.09,478.01Z" fill="url(#mf73)"/><path clip-path="url(#c74)" d="M357.01,477.78L420.19,456.78L402.65,502.69Z" fill="url(#mf74)"/><path clip-path="url(#c75)" d="M419.79,456.67L465.92,480.74L402.25,502.59Z" fill="url(#mf75)"/><path clip-path="url(#c76)" d="M402.17,502.35L465.83,480.5L449.7,528.29Z" fill="url(#mf76)"/><path clip-path="url(#c77)" d="M465.43,480.41L513.45,505.45L449.3,528.2Z" fill="url(#mf77)"/><path clip-path="url(#c78)" d="M375.7,434.17L436.38,414.62L420.06,457.32Z" fill="url(#mf78)"/><path clip-path="url(#c79)" d="M435.96,414.52L480.77,436.9L419.65,457.22Z" fill="url(#mf79)"/><path clip-path="url(#c80)" d="M419.58,456.99L480.69,436.67L465.72,481.05Z" fill="url(#mf80)"/><path clip-path="url(#c81)" d="M480.27,436.58L526.85,459.84L465.3,480.96Z" fill="url(#mf81)"/><path clip-path="url(#c82)" d="M465.22,480.72L526.76,459.6L513.25,505.76Z" fill="url(#mf82)"/><path clip-path="url(#c83)" d="M526.34,459.52L574.79,483.7L512.84,505.68Z" fill="url(#mf83)"/><path clip-path="url(#c84)" d="M435.75,414.82L494.51,395.88L480.57,437.21Z" fill="url(#mf84)"/><path clip-path="url(#c85)" d="M494.09,395.79L539.3,417.45L480.15,437.12Z" fill="url(#mf85)"/><path clip-path="url(#c86)" d="M480.07,436.88L539.22,417.22L526.66,460.14Z" fill="url(#mf86)"/><path clip-path="url(#c87)" d="M538.79,417.14L585.76,439.63L526.24,460.06Z" fill="url(#mf87)"/><path clip-path="url(#c88)" d="M526.15,459.82L585.67,439.38L574.61,484Z" fill="url(#mf88)"/><path clip-path="url(#c89)" d="M585.24,439.31L634.07,462.69L574.19,483.93Z" fill="url(#mf89)"/><path clip-path="url(#c90)" d="M493.89,396.09L550.82,377.73L539.12,417.75Z" fill="url(#mf90)"/><path clip-path="url(#c91)" d="M550.38,377.65L595.96,398.62L538.69,417.67Z" fill="url(#mf91)"/><path clip-path="url(#c92)" d="M538.6,417.43L595.87,398.38L585.58,439.92Z" fill="url(#mf92)"/><path clip-path="url(#c93)" d="M595.43,398.32L642.75,420.08L585.15,439.85Z" fill="url(#mf93)"/><path clip-path="url(#c94)" d="M585.06,439.61L642.65,419.83L633.9,462.98Z" fill="url(#mf94)"/><path clip-path="url(#c95)" d="M642.21,419.77L691.37,442.37L633.46,462.92Z" fill="url(#mf95)"/><path clip-path="url(#c96)" d="M41.26,490.19L113.53,467.95L43.27,541.67Z" fill="url(#mw96)"/><path clip-path="url(#c97)" d="M113.41,467.84L114.98,518.53L43.15,541.56Z" fill="url(#mw97)"/><path clip-path="url(#c98)" d="M112.91,468.01L182.68,446.55L114.49,518.72Z" fill="url(#mw98)"/><path clip-path="url(#c99)" d="M182.56,446.44L183.73,496.39L114.37,518.61Z" fill="url(#mw99)"/><path clip-path="url(#c100)" d="M182.07,446.61L249.46,425.88L183.24,496.57Z" fill="url(#mw100)"/><path clip-path="url(#c101)" d="M249.34,425.78L250.13,475L183.11,496.46Z" fill="url(#mw101)"/><path clip-path="url(#c102)" d="M248.86,425.94L314,405.91L249.64,475.17Z" fill="url(#mw102)"/><path clip-path="url(#c103)" d="M313.88,405.81L314.31,454.32L249.52,475.06Z" fill="url(#mw103)"/><path clip-path="url(#c104)" d="M313.39,405.97L376.4,386.61L313.82,454.49Z" fill="url(#mw104)"/><path clip-path="url(#c105)" d="M376.28,386.5L376.37,434.33L313.7,454.39Z" fill="url(#mw105)"/><path clip-path="url(#c106)" d="M375.79,386.66L436.76,367.93L375.89,434.49Z" fill="url(#mw106)"/><path clip-path="url(#c107)" d="M436.64,367.82L436.42,414.98L375.77,434.39Z" fill="url(#mw107)"/><path clip-path="url(#c108)" d="M436.16,367.97L495.19,349.85L435.94,415.15Z" fill="url(#mw108)"/><path clip-path="url(#c109)" d="M495.07,349.74L494.56,396.25L435.82,415.04Z" fill="url(#mw109)"/><path clip-path="url(#c110)" d="M494.59,349.89L551.77,332.34L494.08,396.41Z" fill="url(#mw110)"/><path clip-path="url(#c111)" d="M551.65,332.23L550.87,378.11L493.96,396.31Z" fill="url(#mw111)"/><path clip-path="url(#c112)" d="M551.25,332.28L620.44,362.72L550.29,378.19Z" fill="url(#me112)"/><path clip-path="url(#c113)" d="M620.36,362.45L619.01,409.51L550.21,377.92Z" fill="url(#me113)"/><path clip-path="url(#c114)" d="M619.86,362.42L693.1,394.64L618.51,409.46Z" fill="url(#me114)"/><path clip-path="url(#c115)" d="M693.02,394.38L691.25,442.63L618.43,409.2Z" fill="url(#me115)"/><path clip-path="url(#c116)" d="M475.4,355.75L543.88,387.55L474.81,402.51Z" fill="url(#me116)"/><path clip-path="url(#c117)" d="M543.8,387.27L542.82,435.23L474.72,402.24Z" fill="url(#me117)"/><path clip-path="url(#c118)" d="M543.3,387.24L615.88,420.95L542.33,435.19Z" fill="url(#me118)"/><path clip-path="url(#c119)" d="M615.81,420.68L614.41,469.87L542.25,434.91Z" fill="url(#me119)"/><path clip-path="url(#c120)" d="M396.23,380.24L463.86,413.5L396.03,427.9Z" fill="url(#me120)"/><path clip-path="url(#c121)" d="M463.77,413.22L463.2,462.11L395.94,427.61Z" fill="url(#me121)"/><path clip-path="url(#c122)" d="M463.29,413.19L535.07,448.49L462.72,462.07Z" fill="url(#me122)"/><path clip-path="url(#c123)" d="M534.99,448.21L534,498.38L462.64,461.78Z" fill="url(#me123)"/><path clip-path="url(#c124)" d="M313.49,405.84L380.13,440.66L313.73,454.42Z" fill="url(#me124)"/><path clip-path="url(#c125)" d="M380.04,440.36L379.92,490.23L313.64,454.13Z" fill="url(#me125)"/><path clip-path="url(#c126)" d="M379.57,440.33L450.39,477.34L379.45,490.18Z" fill="url(#me126)"/><path clip-path="url(#c127)" d="M450.31,477.05L449.78,528.25L379.36,489.89Z" fill="url(#me127)"/><path clip-path="url(#c128)" d="M226.96,432.61L292.44,469.1L227.67,482.16Z" fill="url(#me128)"/><path clip-path="url(#c129)" d="M292.34,468.79L292.72,519.67L227.58,481.85Z" fill="url(#me129)"/><path clip-path="url(#c130)" d="M291.88,468.77L361.58,507.6L292.25,519.63Z" fill="url(#me130)"/><path clip-path="url(#c131)" d="M361.49,507.3L361.47,559.56L292.17,519.32Z" fill="url(#me131)"/><path clip-path="url(#c132)" d="M136.35,460.65L200.49,498.93L137.59,511.19Z" fill="url(#me132)"/><path clip-path="url(#c133)" d="M200.39,498.61L201.3,550.54L137.5,510.87Z" fill="url(#me133)"/><path clip-path="url(#c134)" d="M199.94,498.58L268.3,539.38L200.84,550.49Z" fill="url(#me134)"/><path clip-path="url(#c135)" d="M268.21,539.06L268.74,592.44L200.76,550.17Z" fill="url(#me135)"/><path clip-path="url(#c136)" d="M169.56,572.59L244.19,547.3L170.92,627.02Z" fill="url(#mv136)"/><path clip-path="url(#c137)" d="M244.07,547.19L244.96,600.75L170.8,626.92Z" fill="url(#mv137)"/><path clip-path="url(#c138)" d="M243.58,547.37L315.46,523.02L244.47,600.94Z" fill="url(#mv138)"/><path clip-path="url(#c139)" d="M315.34,522.92L315.8,575.64L244.35,600.84Z" fill="url(#mv139)"/><path clip-path="url(#c140)" d="M314.85,523.09L384.12,499.63L315.3,575.83Z" fill="url(#mv140)"/><path clip-path="url(#c141)" d="M384.01,499.52L384.06,551.44L315.19,575.72Z" fill="url(#mv141)"/><path clip-path="url(#c142)" d="M383.52,499.69L450.33,477.07L383.57,551.62Z" fill="url(#mv142)"/><path clip-path="url(#c143)" d="M450.21,476.97L449.89,528.11L383.45,551.52Z" fill="url(#mv143)"/><path clip-path="url(#c144)" d="M449.73,477.13L514.21,455.31L449.4,528.28Z" fill="url(#mv144)"/><path clip-path="url(#c145)" d="M514.09,455.21L513.42,505.59L449.29,528.18Z" fill="url(#mv145)"/><path clip-path="url(#c146)" d="M513.61,455.37L575.88,434.3L512.94,505.76Z" fill="url(#mv146)"/><path clip-path="url(#c147)" d="M575.76,434.2L574.76,483.84L512.82,505.66Z" fill="url(#mv147)"/><path clip-path="url(#c148)" d="M575.28,434.36L635.45,414.01L574.28,484Z" fill="url(#mv148)"/><path clip-path="url(#c149)" d="M635.33,413.91L634.03,462.83L574.16,483.91Z" fill="url(#mv149)"/><path clip-path="url(#c150)" d="M634.86,414.06L693.03,394.39L633.55,462.99Z" fill="url(#mv150)"/><path clip-path="url(#c151)" d="M692.91,394.29L691.33,442.52L633.44,462.89Z" fill="url(#mv151)"/><path clip-path="url(#c152)" d="M41.38,490.03L103.96,530.24L43.2,541.61Z" fill="url(#me152)"/><path clip-path="url(#c153)" d="M103.86,529.9L105.36,582.93L43.1,541.27Z" fill="url(#me153)"/><path clip-path="url(#c154)" d="M103.42,529.87L170.23,572.8L104.92,582.88Z" fill="url(#me154)"/><path clip-path="url(#c155)" d="M170.14,572.47L171.28,627L104.83,582.55Z" fill="url(#me155)"/>
<path d="M41.59,490.32L551.48,332.54M169.89,572.71L692.75,394.6M41.59,490.32L169.89,572.71M551.48,332.54L692.75,394.6M171.08,626.71L691.02,442.36M43.44,541.36L171.08,626.71M43.44,541.36L550.55,377.96M43.44,541.36L41.59,490.32M171.08,626.71L169.89,572.71M691.02,442.36L692.75,394.6M550.55,377.96L551.48,332.54M136.56,460.93L267.96,539.31M137.84,510.94L136.56,460.93M227.17,432.89L361.23,507.53M227.92,481.91L227.17,432.89M313.71,406.11L450.05,477.28M313.99,454.18L313.71,406.11M396.45,380.51L534.72,448.43M396.29,427.67L396.45,380.51M475.63,356.01L615.54,420.91M475.07,402.28L475.63,356.01M32.75,355.75L556,212.25M556,212.25L700.5,268.5M700.5,268.5L163.5,431.75M163.5,431.75L32.75,355.75" stroke="#b0b0b0" stroke-width="0.8" fill="none"/>
<g><path d="M170,627L235.5,670.5" stroke="#ee7526" stroke-width="1.6" fill="none"/><path d="M268.6,594.25L302.4,616.4" stroke="#ee7526" stroke-width="1.6" fill="none"/><path d="M362.4,560.5L395.4,582.25" stroke="#ee7526" stroke-width="1.6" fill="none"/><path d="M449.4,527.4L482.4,549.1" stroke="#ee7526" stroke-width="1.6" fill="none"/><path d="M537.4,497.75L572.6,518" stroke="#ee7526" stroke-width="1.6" fill="none"/><path d="M615.5,468.1L650,489.1" stroke="#ee7526" stroke-width="1.6" fill="none"/><path d="M691,443L749,476" stroke="#ee7526" stroke-width="1.6" fill="none"/><path d="M693,395L717.5,408" stroke="#ee7526" stroke-width="1.6" fill="none"/><path d="M44,541L8,554" stroke="#ee7526" stroke-width="1.6" fill="none"/><path d="M171,627L134,640" stroke="#ee7526" stroke-width="1.6" fill="none"/><path d="M207.3,639.28L281.45,613.82" stroke="#ee7526" stroke-width="3.0"/><path d="M195,643.5L215.72,643.79L206.82,639.44L211.17,630.55ZM293.75,609.6L273.03,609.31L281.93,613.66L277.58,622.55Z" fill="#ee7526"/><path d="M305.97,605.17L374.53,580.33" stroke="#ee7526" stroke-width="3.0"/><path d="M293.75,609.6L314.47,609.54L305.5,605.34L309.7,596.38ZM386.75,575.9L366.03,575.96L375,580.16L370.8,589.12Z" fill="#ee7526"/><path d="M398.86,571.17L460.49,547.13" stroke="#ee7526" stroke-width="3.0"/><path d="M386.75,575.9L407.46,575.33L398.39,571.36L402.37,562.29ZM472.6,542.4L451.89,542.97L460.96,546.94L456.98,556.01Z" fill="#ee7526"/><path d="M484.71,537.66L545.89,513.74" stroke="#ee7526" stroke-width="3.0"/><path d="M472.6,542.4L493.31,541.82L484.24,537.85L488.21,528.78ZM558,509L537.29,509.58L546.36,513.55L542.39,522.62Z" fill="#ee7526"/><path d="M570.26,504.69L624.64,485.56" stroke="#ee7526" stroke-width="3.0"/><path d="M558,509L578.72,509.13L569.79,504.85L574.07,495.93ZM636.9,481.25L616.18,481.12L625.11,485.4L620.83,494.32Z" fill="#ee7526"/><path d="M649.15,476.91L698.75,459.34" stroke="#ee7526" stroke-width="3.0"/><path d="M636.9,481.25L657.62,481.34L648.68,477.08L652.94,468.14ZM711,455L690.28,454.91L699.22,459.17L694.96,468.11Z" fill="#ee7526"/><path d="M241.19,657.97L725.81,478.03" stroke="#ee7526" stroke-width="3.0"/><path d="M229,662.5L249.72,662.27L240.72,658.15L244.84,649.15ZM738,473.5L717.28,473.73L726.28,477.85L722.16,486.85Z" fill="#ee7526"/><path d="M29.62,561.88L131.63,628.87" stroke="#ee7526" stroke-width="3.0"/><path d="M18.75,554.75L31.21,571.3L29.2,561.61L38.89,559.6ZM142.5,636L130.04,619.45L132.05,629.14L122.36,631.15Z" fill="#ee7526"/><path d="M710.63,417L710.87,441.5" stroke="#ee7526" stroke-width="3.0"/><path d="M710.5,404L703.69,423.57L710.62,416.5L717.69,423.43ZM711,454.5L717.81,434.93L710.88,442L703.81,435.07Z" fill="#ee7526"/><path d="M715.5,421L745,322.5L800,322.5" stroke="#ee7526" stroke-width="1.3" fill="none"/><path d="M631,150.8L549.5,265.5" stroke="#ee7526" stroke-width="1.6" fill="none"/><path d="M548.1,267.5L553.37,263.88L550.42,264.24L549.78,261.33Z" fill="#ee7526"/></g><g fill="#3273be" font-family="&quot;Liberation Sans&quot;, sans-serif" font-weight="bold" stroke="#3273be" stroke-width="0.1"><text x="591.5" y="144.75" font-size="24">Крышка</text><text x="733.5" y="319.6" font-size="19">230 мм</text><text x="0" y="0" transform="translate(52,572) rotate(32) scale(0.97,1)" font-size="24.5" stroke-width="0.6">2000 мм</text><text x="0" y="0" transform="translate(194.3,641.74) rotate(-18.95) scale(0.98,1)" font-size="24.5" stroke-width="0.45">1000 мм</text><text x="0" y="0" transform="translate(290.83,607.39) rotate(-19.92) scale(0.98,1)" font-size="23.46" stroke-width="0.45">1000 мм</text><text x="0" y="0" transform="translate(378.68,574.24) rotate(-21.32) scale(0.98,1)" font-size="22.17" stroke-width="0.45">1000 мм</text><text x="0" y="0" transform="translate(466.2,543.03) rotate(-21.36) scale(0.98,1)" font-size="22.08" stroke-width="0.45">1000 мм</text><text x="0" y="0" transform="translate(553.91,508.98) rotate(-19.38) scale(0.98,1)" font-size="20.52" stroke-width="0.45">1000 мм</text><text x="0" y="0" transform="translate(632.37,481.02) rotate(-19.51) scale(0.98,1)" font-size="19.52" stroke-width="0.45">1000 мм</text><text x="0" y="0" transform="translate(446,576) rotate(-17.5) scale(0.97,1)" font-size="24.5" stroke-width="0.5">6000 мм</text></g>
</svg>
</body></html>
